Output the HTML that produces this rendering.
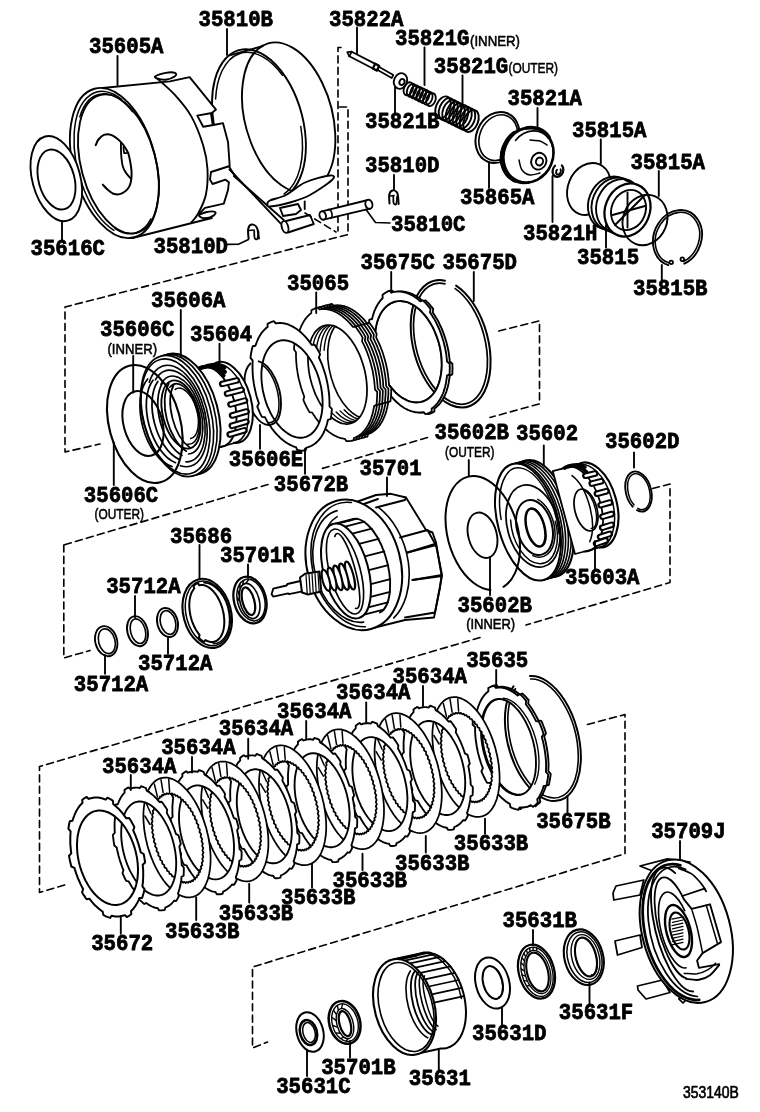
<!DOCTYPE html>
<html><head><meta charset="utf-8"><title>353140B</title>
<style>html,body{margin:0;padding:0;background:#fff}svg{display:block}
svg{will-change:transform}
text{font-family:"Liberation Mono",monospace;font-weight:bold;fill:#000;stroke:#000;stroke-width:.8px}
text.s{font-family:"Liberation Sans",sans-serif;font-weight:normal;stroke-width:.55px}
</style></head><body>
<svg width="760" height="1112" viewBox="0 0 760 1112" fill="none" stroke="#000" stroke-linecap="round" stroke-linejoin="round">
<rect width="760" height="1112" fill="#fff" stroke="none"/>
<path d="M261.5 46.4A44 77 -15 0 1 326 178" fill="none" stroke-width="1.88"/>
<line x1="228.8" y1="55.6" x2="261.5" y2="46.4" stroke-width="1.88"/>
<path d="M235.6 176.5A44 77 -15 1 1 271.2 199.7" fill="none" stroke-width="1.88"/>
<path d="M215.6 99A42 75.5 -15 0 1 282.5 75.3" fill="none" stroke-width="1.5"/>
<path d="M300.8 126.5A41.5 75 -15 0 1 284.1 194" fill="none" stroke-width="1.5"/>
<path d="M316.8 188.1A44 77 -15 1 1 262.8 45.6" fill="none" stroke-width="1.88"/>
<path d="M229.5 169.5L281 223.8" fill="none" stroke-width="1.88"/>
<path d="M233.8 176L283.8 220" fill="none" stroke-width="1.88"/>
<path d="M267.5 204C267.5 203 266.9 202 270 200.5C273.1 199 280.2 198 286 195C291.8 192 297.7 185.8 305 182.5C312.3 179.2 325.5 175.9 330 175.5C334.5 175.1 335.3 176.8 332 180C328.7 183.2 317 191.2 310 195C303 198.8 296.7 200.6 290 202.5C283.3 204.4 273.8 206.2 270 206.5C266.2 206.8 267.5 205 267.5 204Z" fill="#fff" stroke-width="1.88"/>
<path d="M280 208L298 204L301 210L296 214L283 216L280 208" fill="#fff" stroke-width="1.88"/>
<line x1="304.7" y1="201.5" x2="304.7" y2="209" stroke-width="1.88"/>
<path d="M286 221L310 215L313.8 224L288 232.5" fill="#fff" stroke-width="1.88"/>
<ellipse cx="285" cy="227" rx="3.2" ry="6" transform="rotate(-15 285 227)" fill="#fff" stroke-width="1.88"/>
<path d="M102.5 88L170 81.4L189.6 77.1L216 109.6L211.8 113L197.3 115.6L203.2 126.7L213.5 125L223 123.2L228 142L229.7 166L211 172L210 179.7L212.6 184L225.5 179.7L228.9 182.2L228 190L223.8 203.6L205 207.9L199 213.8L211.8 218L132.5 238" fill="#fff" stroke-width="1.88"/>
<path d="M155.4 77C158.5 79.9 168.2 87.6 174.2 94.2C180.2 100.8 186.5 107.9 191.3 116.4C196.1 125 200.5 136.7 203.2 145.5C205.9 154.3 207.1 161.2 207.5 169.4C207.9 177.7 207.4 187.6 205.8 195C204.2 202.4 200.4 209.2 198 213.8C195.6 218.4 192.4 221 191.3 222.4" fill="none" stroke-width="1.88"/>
<path d="M155.4 76.2C156.8 75.3 162.3 73.4 165.6 72.8C168.9 72.2 173.4 72.2 175 72.8C176.6 73.4 176.6 75 175 76.2C173.4 77.4 168.6 79.3 165.6 79.7C162.6 80.1 158.7 79 157 78.4C155.3 77.8 154 77.1 155.4 76.2Z" fill="#fff" stroke-width="1.88"/>
<path d="M199 215.6C199.3 214.5 204 212.6 206.7 212C209.4 211.4 214.1 211.4 215.2 212C216.3 212.6 215.2 214.5 213.5 215.6C211.8 216.7 207.4 218.3 205 218.3C202.6 218.3 198.7 216.7 199 215.6Z" fill="#fff" stroke-width="1.88"/>
<path d="M211 113.8L212.6 124" fill="none" stroke-width="1.88"/>
<ellipse cx="114.4" cy="163" rx="41.1" ry="76.9" transform="rotate(-15 114.4 163)" fill="#fff" stroke-width="1.88"/>
<ellipse cx="118.5" cy="164" rx="37.3" ry="71.3" transform="rotate(-15 118.5 164)" fill="none" stroke-width="1.88"/>
<path d="M113.9 230.3A38.6 73.9 -15 1 1 121.7 99.3" fill="none" stroke-width="1.5"/>
<path d="M79.8 116.9A37.1 71.4 -15 0 1 132.6 111.8" fill="none" stroke-width="1.5"/>
<path d="M150.9 218.9A37.1 71.4 -15 0 1 115.1 228.5" fill="none" stroke-width="1.5"/>
<path d="M95.7 145.1C96.2 144.2 97.1 141.2 98.5 139.5C99.9 137.8 101.8 135.7 103.9 134.9C106 134.1 108.2 133.8 111 134.9C113.8 136 118 139.2 120.5 141.6C123 143.9 124.5 146.5 126 149C127.5 151.5 128.3 152.4 129.2 156.6C130.1 160.8 131.6 168.9 131.6 173.9C131.6 178.9 130.9 183.3 129.2 186.6C127.5 189.9 123.9 192.5 121.3 193.7C118.7 194.9 115.7 194.4 113.4 193.7C111.1 193 109.3 191 107.5 189.5C105.7 188 103.6 185.4 102.8 184.6" fill="none" stroke-width="2"/>
<path d="M120.9 143.2C121 145.2 120.9 151.1 121.2 155C121.5 158.9 122 163.7 122.9 166.8C123.8 169.9 125.2 171.5 126.5 173.5C127.8 175.5 130.1 177.8 130.8 178.7" fill="none" stroke-width="1.88"/>
<path d="M123.5 147L124 153L126.5 153" fill="none" stroke-width="1.75"/>
<line x1="117.5" y1="56" x2="117.5" y2="85" stroke-width="1.88"/>
<text x="89" y="52.8" font-size="22.8" textLength="74.5" lengthAdjust="spacingAndGlyphs">35605A</text>
<ellipse cx="56.3" cy="178.6" rx="24" ry="43.6" transform="rotate(-15 56.3 178.6)" fill="#fff" stroke-width="1.88"/>
<ellipse cx="56.5" cy="179.5" rx="17.9" ry="30.7" transform="rotate(-15 56.5 179.5)" fill="none" stroke-width="1.88"/>
<line x1="62" y1="221" x2="62" y2="240" stroke-width="1.88"/>
<text x="30.5" y="255.4" font-size="22.8" textLength="74.5" lengthAdjust="spacingAndGlyphs">35616C</text>
<text x="198.5" y="26.4" font-size="22.8" textLength="74.5" lengthAdjust="spacingAndGlyphs">35810B</text>
<line x1="227" y1="29" x2="227" y2="55" stroke-width="1.88"/>
<path d="M248.6 238.5C248.5 236.9 247.7 231.3 248.2 229C248.7 226.7 250.1 224.8 251.5 224.6C252.9 224.3 255.6 225.2 256.8 227.5C258.1 229.8 258.6 236.7 259 238.5" fill="none" stroke-width="2"/>
<path d="M254.2 231C254.3 232.2 254.1 236.7 254.6 238C255.1 239.3 256.8 239.9 257.4 238.8C258 237.7 258.3 232.7 258.5 231.5" fill="none" stroke-width="1.75"/>
<path d="M249 230.5L254 230" fill="none" stroke-width="1.62"/>
<path d="M227.5 244.4L238.4 244.2L248.5 239.5" fill="none" stroke-width="1.62"/>
<text x="153.5" y="252.9" font-size="22.8" textLength="74.5" lengthAdjust="spacingAndGlyphs">35810D</text>
<path d="M341 47.5L338 47.5L338 231" fill="none" stroke-width="1.62" stroke-dasharray="7 4.4"/>
<path d="M339.5 107L348 107L348 234.5L65 307L65 452L100 444" fill="none" stroke-width="1.62" stroke-dasharray="7 4.4"/>
<path d="M305 213L336 232" fill="none" stroke-width="1.62" stroke-dasharray="7 4.4"/>
<path d="M322 211.3L368 200L370 208.6L323.6 219.6" fill="#fff" stroke-width="1.88"/>
<ellipse cx="368.9" cy="204.3" rx="3.5" ry="4.6" transform="rotate(-15 368.9 204.3)" fill="#fff" stroke-width="1.88"/>
<ellipse cx="322.7" cy="215.5" rx="3.2" ry="4.3" transform="rotate(-15 322.7 215.5)" fill="#fff" stroke-width="1.88"/>
<path d="M328.4 209.6A2.4 4.3 -15 0 1 330.6 218" fill="none" stroke-width="1.62"/>
<path d="M366 209.5L375.5 222.5L390 223" fill="none" stroke-width="1.62"/>
<text x="391" y="231.4" font-size="22.8" textLength="74.5" lengthAdjust="spacingAndGlyphs">35810C</text>
<text x="365" y="172.4" font-size="22.8" textLength="74.5" lengthAdjust="spacingAndGlyphs">35810D</text>
<line x1="394" y1="175" x2="394" y2="190" stroke-width="1.88"/>
<path d="M389.5 203.5C389.5 202 388.8 196.7 389.3 194.5C389.8 192.3 391.2 190.8 392.5 190.5C393.8 190.2 396.3 190.8 397.3 193C398.3 195.2 398.4 202.2 398.6 204" fill="none" stroke-width="2"/>
<path d="M393.3 196C393.4 197.2 393.1 201.7 393.6 203C394.1 204.3 395.6 205.1 396.2 204C396.8 202.9 397 197.8 397.2 196.5" fill="none" stroke-width="1.75"/>
<path d="M389.8 196L394 195.5" fill="none" stroke-width="1.62"/>
<text x="329" y="26.4" font-size="22.8" textLength="74.5" lengthAdjust="spacingAndGlyphs">35822A</text>
<line x1="357" y1="27.5" x2="357" y2="54" stroke-width="1.88"/>
<path d="M377.2 69.7L391.7 78L393.3 75L378.8 66.7Z" fill="#fff" stroke-width="1.62"/>
<path d="M349.3 56.3L376.8 70.5L379.2 65.9L351.7 51.7Z" fill="#fff" stroke-width="1.75"/>
<path d="M351.7 51.7L347.3 52.2L349.3 56.3" fill="none" stroke-width="1.75"/>
<path d="M372.8 68.4L376.8 70.5L379.2 65.9L375.2 63.8Z" fill="#fff" stroke-width="2.25"/>
<ellipse cx="400.5" cy="81" rx="6.5" ry="8" transform="rotate(22 400.5 81)" fill="#fff" stroke-width="1.88"/>
<ellipse cx="402" cy="82" rx="2.5" ry="3" transform="rotate(22 402 82)" fill="none" stroke-width="1.88"/>
<line x1="395" y1="87.5" x2="395" y2="112.5" stroke-width="1.88"/>
<text x="365" y="127.9" font-size="22.8" textLength="74.5" lengthAdjust="spacingAndGlyphs">35821B</text>
<ellipse cx="408.4" cy="88.8" rx="4.4" ry="6.8" transform="rotate(22 408.4 88.8)" fill="none" stroke-width="1.81"/>
<ellipse cx="411.6" cy="90.3" rx="4.4" ry="6.8" transform="rotate(22 411.6 90.3)" fill="none" stroke-width="1.81"/>
<ellipse cx="414.9" cy="91.9" rx="4.4" ry="6.8" transform="rotate(22 414.9 91.9)" fill="none" stroke-width="1.81"/>
<ellipse cx="418.1" cy="93.4" rx="4.4" ry="6.8" transform="rotate(22 418.1 93.4)" fill="none" stroke-width="1.81"/>
<ellipse cx="421.3" cy="95" rx="4.4" ry="6.8" transform="rotate(22 421.3 95)" fill="none" stroke-width="1.81"/>
<ellipse cx="424.5" cy="96.5" rx="4.4" ry="6.8" transform="rotate(22 424.5 96.5)" fill="none" stroke-width="1.81"/>
<ellipse cx="427.8" cy="98.1" rx="4.4" ry="6.8" transform="rotate(22 427.8 98.1)" fill="none" stroke-width="1.81"/>
<ellipse cx="431" cy="99.6" rx="4.4" ry="6.8" transform="rotate(22 431 99.6)" fill="none" stroke-width="1.81"/>
<ellipse cx="443" cy="107.4" rx="7" ry="11.5" transform="rotate(22 443 107.4)" fill="none" stroke-width="1.94"/>
<ellipse cx="446.5" cy="109.1" rx="7" ry="11.5" transform="rotate(22 446.5 109.1)" fill="none" stroke-width="1.94"/>
<ellipse cx="450" cy="110.8" rx="7" ry="11.5" transform="rotate(22 450 110.8)" fill="none" stroke-width="1.94"/>
<ellipse cx="453.5" cy="112.5" rx="7" ry="11.5" transform="rotate(22 453.5 112.5)" fill="none" stroke-width="1.94"/>
<ellipse cx="457" cy="114.2" rx="7" ry="11.5" transform="rotate(22 457 114.2)" fill="none" stroke-width="1.94"/>
<ellipse cx="460.5" cy="115.9" rx="7" ry="11.5" transform="rotate(22 460.5 115.9)" fill="none" stroke-width="1.94"/>
<ellipse cx="464" cy="117.6" rx="7" ry="11.5" transform="rotate(22 464 117.6)" fill="none" stroke-width="1.94"/>
<ellipse cx="467.5" cy="119.3" rx="7" ry="11.5" transform="rotate(22 467.5 119.3)" fill="none" stroke-width="1.94"/>
<ellipse cx="471" cy="121" rx="7" ry="11.5" transform="rotate(22 471 121)" fill="none" stroke-width="1.94"/>
<text x="395" y="45.4" font-size="22.8" textLength="74.5" lengthAdjust="spacingAndGlyphs">35821G</text>
<text class="s" x="470" y="45.5" font-size="15.2" textLength="50" lengthAdjust="spacingAndGlyphs">(INNER)</text>
<text x="433.8" y="72.9" font-size="22.8" textLength="74.5" lengthAdjust="spacingAndGlyphs">35821G</text>
<text class="s" x="508.5" y="73" font-size="15.2" textLength="49.5" lengthAdjust="spacingAndGlyphs">(OUTER)</text>
<line x1="424.5" y1="47.5" x2="424.5" y2="85" stroke-width="1.88"/>
<line x1="462.5" y1="75.5" x2="462.5" y2="106" stroke-width="1.88"/>
<ellipse cx="497.5" cy="137.5" rx="21.3" ry="26.1" transform="rotate(22 497.5 137.5)" fill="none" stroke-width="2"/>
<ellipse cx="498.3" cy="137.7" rx="18.7" ry="23.5" transform="rotate(22 498.3 137.7)" fill="none" stroke-width="1.62"/>
<line x1="489" y1="162.5" x2="489" y2="188" stroke-width="1.88"/>
<text x="460" y="204.2" font-size="22.8" textLength="74.5" lengthAdjust="spacingAndGlyphs">35865A</text>
<ellipse cx="525.8" cy="155.6" rx="24.5" ry="28" transform="rotate(22 525.8 155.6)" fill="#fff" stroke-width="2.25"/>
<path d="M514.6 180.3A24.5 28 22 0 1 514.4 132.9" fill="none" stroke-width="4.25"/>
<ellipse cx="528.5" cy="155" rx="24.5" ry="28" transform="rotate(22 528.5 155)" fill="#fff" stroke-width="2.5"/>
<path d="M526.2 128A24.5 28 22 0 1 548.9 137.1" fill="none" stroke-width="3.75"/>
<path d="M515.5 140.4A21.5 25.5 22 1 1 540.1 177.3" fill="none" stroke-width="1.62"/>
<ellipse cx="538.8" cy="161.2" rx="7.5" ry="8.5" transform="rotate(22 538.8 161.2)" fill="none" stroke-width="1.88"/>
<ellipse cx="539.5" cy="161.5" rx="3.5" ry="4" transform="rotate(22 539.5 161.5)" fill="none" stroke-width="1.88"/>
<path d="M519 160C519.5 161.7 520.2 167.5 522 170C523.8 172.5 527 174.5 530 175C533 175.5 538.3 173.3 540 173" fill="none" stroke-width="1.5"/>
<path d="M530 140C531.7 140.2 537.2 140.2 540 141C542.8 141.8 545.8 144.3 547 145" fill="none" stroke-width="1.5"/>
<text x="507.5" y="104.9" font-size="22.8" textLength="74.5" lengthAdjust="spacingAndGlyphs">35821A</text>
<line x1="537.5" y1="108" x2="537.5" y2="129" stroke-width="1.88"/>
<path d="M561.9 165.5A5.2 6.5 22 1 1 555 165.8" fill="none" stroke-width="2.25"/>
<path d="M560.6 169.3A2.2 3.2 22 1 1 557 169.7" fill="none" stroke-width="1.88"/>
<line x1="552.5" y1="176" x2="552.5" y2="222" stroke-width="1.88"/>
<text x="523" y="240.4" font-size="22.8" textLength="74.5" lengthAdjust="spacingAndGlyphs">35821H</text>
<ellipse cx="589" cy="189" rx="21.1" ry="26.7" transform="rotate(22 589 189)" fill="none" stroke-width="1.88"/>
<ellipse cx="611" cy="203" rx="22.3" ry="27.1" transform="rotate(22 611 203)" fill="#fff" stroke-width="1.88"/>
<path d="M602.6 228.3A22.3 27.1 22 1 1 631.1 183.2" fill="#fff" stroke-width="1.88"/>
<path d="M607.1 229.8A22.3 27.1 22 1 1 635.6 184.7" fill="none" stroke-width="1.88"/>
<path d="M625.2 180.1L641.7 187.1" fill="none" stroke-width="1.88"/>
<path d="M597.4 226.3L613.9 233.3" fill="none" stroke-width="1.88"/>
<ellipse cx="627.5" cy="210" rx="22.3" ry="27.1" transform="rotate(22 627.5 210)" fill="#fff" stroke-width="2.25"/>
<ellipse cx="628.5" cy="210" rx="17" ry="20.5" transform="rotate(22 628.5 210)" fill="none" stroke-width="1.88"/>
<line x1="612.5" y1="215" x2="645" y2="206" stroke-width="1.88"/>
<line x1="627.5" y1="192.5" x2="627.5" y2="227.5" stroke-width="1.88"/>
<line x1="615" y1="225" x2="645" y2="195" stroke-width="1.88"/>
<line x1="606" y1="225" x2="606" y2="247.5" stroke-width="1.88"/>
<text x="577" y="264.1" font-size="22.8" textLength="62.1" lengthAdjust="spacingAndGlyphs">35815</text>
<ellipse cx="645" cy="220" rx="21.9" ry="25.7" transform="rotate(22 645 220)" fill="none" stroke-width="1.88"/>
<text x="572" y="137.4" font-size="22.8" textLength="74.5" lengthAdjust="spacingAndGlyphs">35815A</text>
<line x1="600.8" y1="139.5" x2="600.8" y2="163.8" stroke-width="1.88"/>
<text x="630.5" y="169.2" font-size="22.8" textLength="74.5" lengthAdjust="spacingAndGlyphs">35815A</text>
<line x1="658.8" y1="171" x2="658.8" y2="196" stroke-width="1.88"/>
<path d="M668.3 265.1A23.8 28.6 22 1 1 684.3 263.7" fill="none" stroke-width="1.88"/>
<path d="M669 262.9A21.5 26.3 22 1 1 683.5 261.5" fill="none" stroke-width="1.62"/>
<ellipse cx="671.2" cy="262.3" rx="1.8" ry="1.8" transform="rotate(0 671.2 262.3)" fill="none" stroke-width="1.75"/>
<ellipse cx="682.3" cy="259.2" rx="1.8" ry="1.8" transform="rotate(0 682.3 259.2)" fill="none" stroke-width="1.75"/>
<line x1="661.8" y1="265" x2="661.8" y2="280" stroke-width="1.88"/>
<text x="633" y="295.4" font-size="22.8" textLength="74.5" lengthAdjust="spacingAndGlyphs">35815B</text>
<path d="M498.8 331L539.5 320.8L539.5 403.8L490 417.5" fill="none" stroke-width="1.62" stroke-dasharray="7 4.4"/>
<path d="M427.5 437.5L322.5 468.4" fill="none" stroke-width="1.62" stroke-dasharray="7 4.4"/>
<path d="M268 484.5L63.8 545" fill="none" stroke-width="1.62" stroke-dasharray="7 4.4"/>
<path d="M456.1 285.6A37.5 65.2 -15 1 1 445 280.7" fill="none" stroke-width="2"/>
<path d="M455.2 288.6A34.5 62 -15 1 1 444.9 283.8" fill="none" stroke-width="1.75"/>
<path d="M446.5 342.6L447.0 344.7L447.5 346.8L448.0 348.9L448.4 351.0L448.8 353.1L449.1 355.3L449.3 357.4L449.6 359.5L449.7 361.5L452.4 363.8L452.4 366.0L452.5 368.1L452.4 370.2L452.4 372.3L452.2 374.4L449.7 375.7L449.5 377.6L449.2 379.5L448.9 381.4L448.6 383.2L448.2 385.0L447.8 386.8L447.3 388.5L446.8 390.1L446.3 391.8L445.7 393.3L445.0 394.8L444.4 396.3L443.6 397.7L442.9 399.1L442.1 400.4L441.2 401.6L440.4 402.8L439.5 403.9L438.5 405.0L437.6 405.9L436.5 406.9L435.5 407.7L434.4 408.5L434.4 411.5L433.2 412.2L432.0 412.8L430.7 413.3L429.5 413.8L428.2 414.2L426.3 412.1L425.0 412.3L423.8 412.4L422.5 412.5L421.2 412.5L419.9 412.4L418.6 412.3L417.2 412.0L415.9 411.7L414.6 411.4L413.2 410.9L411.9 410.4L410.5 409.8L409.2 409.2L407.9 408.5L406.5 407.7L405.2 406.8L403.9 405.9L402.6 404.9L401.3 403.8L400.0 402.7L398.7 401.5L397.4 400.3L396.2 399.0L395.0 397.6L393.8 396.2L391.0 396.7L389.8 395.1L388.6 393.5L387.4 391.8L386.3 390.0L385.2 388.3L384.1 386.5L385.0 383.1L384.1 381.3L383.2 379.4L382.3 377.5L381.4 375.6L380.6 373.6L379.8 371.6L379.1 369.6L378.4 367.6L377.7 365.5L377.1 363.5L376.5 361.4L376.0 359.3L375.5 357.2L375.0 355.1L374.6 353.0L374.2 350.9L373.9 348.7L373.7 346.6L373.4 344.5L373.3 342.5L373.1 340.4L373.0 338.3L373.0 336.3L373.0 334.2L373.1 332.2L370.8 329.6L370.9 327.6L371.2 325.5L371.4 323.6L371.7 321.6L372.1 319.7L374.8 319.0L375.2 317.2L375.7 315.5L376.2 313.9L376.7 312.2L377.3 310.7L378.0 309.2L378.6 307.7L379.4 306.3L380.1 304.9L380.9 303.6L381.8 302.4L382.6 301.2L383.5 300.1L384.5 299.0L385.4 298.1L385.2 295.0L386.3 294.1L387.4 293.3L388.6 292.5L389.8 291.8L391.0 291.2L392.3 290.7L394.3 292.6L395.5 292.2L396.7 291.9L398.0 291.7L399.2 291.6L400.5 291.5L401.8 291.5L403.1 291.6L404.4 291.7L405.8 292.0L407.1 292.3L408.4 292.6L409.8 293.1L411.1 293.6L412.5 294.2L413.8 294.8L415.1 295.5L416.5 296.3L417.8 297.2L419.1 298.1L420.4 299.1L421.7 300.2L423.0 301.3L425.5 300.3L426.8 301.6L428.2 302.9L429.5 304.3L430.7 305.8L432.0 307.3L433.2 308.9L432.7 312.4L433.8 314.0L434.9 315.7L435.9 317.4L437.0 319.1L438.0 320.9L438.9 322.7L439.8 324.6L440.7 326.5L441.6 328.4L442.4 330.4L443.2 332.4L443.9 334.4L444.6 336.4L445.3 338.5L445.9 340.5ZM439.0 343.5L439.9 347.0L440.6 350.6L441.1 354.1L441.5 357.6L441.7 361.1L441.8 364.6L441.7 368.0L441.4 371.3L441.0 374.5L440.4 377.6L439.7 380.6L438.8 383.5L437.8 386.1L436.6 388.7L435.3 391.0L433.8 393.2L432.2 395.1L430.5 396.8L428.7 398.4L426.8 399.6L424.9 400.7L422.8 401.5L420.6 402.1L418.4 402.4L416.2 402.5L413.9 402.3L411.6 401.9L409.2 401.3L406.9 400.4L404.6 399.2L402.3 397.9L400.0 396.3L397.7 394.5L395.5 392.5L393.4 390.2L391.4 387.8L389.4 385.3L387.5 382.5L385.7 379.6L384.0 376.6L382.5 373.5L381.1 370.2L379.8 366.9L378.6 363.4L377.6 360.0L376.7 356.5L376.0 352.9L375.5 349.4L375.1 345.9L374.9 342.4L374.8 338.9L374.9 335.5L375.2 332.2L375.6 329.0L376.2 325.9L376.9 322.9L377.8 320.0L378.8 317.4L380.0 314.8L381.3 312.5L382.8 310.3L384.4 308.4L386.1 306.7L387.9 305.1L389.8 303.9L391.7 302.8L393.8 302.0L396.0 301.4L398.2 301.1L400.4 301.0L402.7 301.2L405.0 301.6L407.4 302.2L409.7 303.1L412.0 304.3L414.3 305.6L416.6 307.2L418.9 309.0L421.1 311.0L423.2 313.3L425.2 315.7L427.2 318.2L429.1 321.0L430.9 323.9L432.6 326.9L434.1 330.0L435.5 333.3L436.8 336.6L438.0 340.1Z" fill="#fff" fill-rule="evenodd" stroke-width="1.88"/>
<path d="M443.8 342.6L444.3 344.7L444.8 346.8L445.3 348.9L445.7 351.0L446.1 353.1L446.4 355.3L446.6 357.4L446.9 359.5L447.0 361.5L449.7 363.8L449.7 366.0L449.8 368.1L449.7 370.2L449.7 372.3L449.5 374.4L447.0 375.7L446.8 377.6L446.5 379.5L446.2 381.4L445.9 383.2L445.5 385.0L445.1 386.8L444.6 388.5L444.1 390.1L443.6 391.8L443.0 393.3L442.3 394.8L441.7 396.3L440.9 397.7L440.2 399.1L439.4 400.4L438.5 401.6L437.7 402.8L436.8 403.9L435.8 405.0L434.9 405.9L433.8 406.9L432.8 407.7L431.7 408.5L431.7 411.5L430.5 412.2L429.3 412.8L428.0 413.3L426.8 413.8L425.5 414.2L423.6 412.1L422.3 412.3L421.1 412.4L419.8 412.5L418.5 412.5L417.2 412.4L415.9 412.3L414.5 412.0L413.2 411.7L411.9 411.4L410.5 410.9L409.2 410.4L407.8 409.8L406.5 409.2L405.2 408.5L403.8 407.7L402.5 406.8L401.2 405.9L399.9 404.9L398.6 403.8L397.3 402.7L396.0 401.5L394.7 400.3L393.5 399.0L392.3 397.6L391.1 396.2L388.3 396.7L387.1 395.1L385.9 393.5L384.7 391.8L383.6 390.0L382.5 388.3L381.4 386.5L382.3 383.1L381.4 381.3L380.5 379.4L379.6 377.5L378.7 375.6L377.9 373.6L377.1 371.6L376.4 369.6L375.7 367.6L375.0 365.5L374.4 363.5L373.8 361.4L373.3 359.3L372.8 357.2L372.3 355.1L371.9 353.0L371.5 350.9L371.2 348.7L371.0 346.6L370.7 344.5L370.6 342.5L370.4 340.4L370.3 338.3L370.3 336.3L370.3 334.2L370.4 332.2L368.1 329.6L368.2 327.6L368.5 325.5L368.7 323.6L369.0 321.6L369.4 319.7L372.1 319.0L372.5 317.2L373.0 315.5L373.5 313.9L374.0 312.2L374.6 310.7L375.3 309.2L375.9 307.7L376.7 306.3L377.4 304.9L378.2 303.6L379.1 302.4L379.9 301.2L380.8 300.1L381.8 299.0L382.7 298.1L382.5 295.0L383.6 294.1L384.7 293.3L385.9 292.5L387.1 291.8L388.3 291.2L389.6 290.7L391.6 292.6L392.8 292.2L394.0 291.9L395.3 291.7L396.5 291.6L397.8 291.5L399.1 291.5L400.4 291.6L401.7 291.7L403.1 292.0L404.4 292.3L405.7 292.6L407.1 293.1L408.4 293.6L409.8 294.2L411.1 294.8L412.4 295.5L413.8 296.3L415.1 297.2L416.4 298.1L417.7 299.1L419.0 300.2L420.3 301.3L422.8 300.3L424.1 301.6L425.5 302.9L426.8 304.3L428.0 305.8L429.3 307.3L430.5 308.9L430.0 312.4L431.1 314.0L432.2 315.7L433.2 317.4L434.3 319.1L435.3 320.9L436.2 322.7L437.1 324.6L438.0 326.5L438.9 328.4L439.7 330.4L440.5 332.4L441.2 334.4L441.9 336.4L442.6 338.5L443.2 340.5ZM439.0 343.5L439.9 347.0L440.6 350.6L441.1 354.1L441.5 357.6L441.7 361.1L441.8 364.6L441.7 368.0L441.4 371.3L441.0 374.5L440.4 377.6L439.7 380.6L438.8 383.5L437.8 386.1L436.6 388.7L435.3 391.0L433.8 393.2L432.2 395.1L430.5 396.8L428.7 398.4L426.8 399.6L424.9 400.7L422.8 401.5L420.6 402.1L418.4 402.4L416.2 402.5L413.9 402.3L411.6 401.9L409.2 401.3L406.9 400.4L404.6 399.2L402.3 397.9L400.0 396.3L397.7 394.5L395.5 392.5L393.4 390.2L391.4 387.8L389.4 385.3L387.5 382.5L385.7 379.6L384.0 376.6L382.5 373.5L381.1 370.2L379.8 366.9L378.6 363.4L377.6 360.0L376.7 356.5L376.0 352.9L375.5 349.4L375.1 345.9L374.9 342.4L374.8 338.9L374.9 335.5L375.2 332.2L375.6 329.0L376.2 325.9L376.9 322.9L377.8 320.0L378.8 317.4L380.0 314.8L381.3 312.5L382.8 310.3L384.4 308.4L386.1 306.7L387.9 305.1L389.8 303.9L391.7 302.8L393.8 302.0L396.0 301.4L398.2 301.1L400.4 301.0L402.7 301.2L405.0 301.6L407.4 302.2L409.7 303.1L412.0 304.3L414.3 305.6L416.6 307.2L418.9 309.0L421.1 311.0L423.2 313.3L425.2 315.7L427.2 318.2L429.1 321.0L430.9 323.9L432.6 326.9L434.1 330.0L435.5 333.3L436.8 336.6L438.0 340.1Z" fill="#fff" fill-rule="evenodd" stroke-width="1.88"/>
<text x="360.5" y="269.1" font-size="22.8" textLength="74.5" lengthAdjust="spacingAndGlyphs">35675C</text>
<text x="442.5" y="269.1" font-size="22.8" textLength="74.5" lengthAdjust="spacingAndGlyphs">35675D</text>
<line x1="391.2" y1="272" x2="391.2" y2="292.5" stroke-width="1.88"/>
<line x1="473.8" y1="272" x2="473.8" y2="301" stroke-width="1.88"/>
<path d="M385.1 360.7L385.7 363.0L386.2 365.2L386.7 367.5L387.2 369.7L387.6 372.0L387.9 374.3L388.2 376.5L388.5 378.8L388.7 381.0L388.9 383.3L389.0 385.5L391.2 388.0L391.2 390.3L391.2 392.5L391.1 394.7L390.9 396.9L390.7 399.0L390.5 401.1L388.2 402.3L387.9 404.3L387.5 406.2L387.1 408.0L386.6 409.9L386.2 411.6L385.6 413.4L385.0 415.0L384.4 416.7L383.7 418.2L383.0 419.7L382.3 421.2L381.5 422.5L380.6 423.8L379.8 425.1L378.9 426.3L377.9 427.4L376.9 428.4L375.9 429.4L374.9 430.3L373.8 431.1L372.7 431.9L371.6 432.6L370.4 433.2L369.2 433.7L368.0 434.2L367.4 436.7L366.0 437.0L364.7 437.2L363.3 437.3L361.9 437.4L360.6 437.4L359.0 435.1L357.7 434.9L356.3 434.7L355.0 434.3L353.6 433.9L352.2 433.4L350.8 432.8L349.5 432.2L348.1 431.5L346.7 430.7L345.3 429.8L344.0 428.9L342.6 427.8L341.3 426.8L339.9 425.6L338.6 424.4L337.3 423.1L336.0 421.7L334.7 420.3L333.4 418.9L332.2 417.3L330.9 415.7L329.7 414.1L328.6 412.4L327.4 410.6L326.3 408.8L323.5 408.4L322.4 406.5L321.3 404.5L320.3 402.4L319.2 400.4L318.3 398.2L317.3 396.1L318.4 392.9L317.6 390.8L316.8 388.6L316.0 386.4L315.3 384.2L314.6 382.0L314.0 379.8L313.4 377.5L312.9 375.2L312.4 373.0L312.0 370.7L311.6 368.4L311.2 366.2L310.9 363.9L310.6 361.7L310.4 359.4L310.3 357.2L310.2 355.0L310.1 352.8L310.1 350.6L310.1 348.5L308.0 345.8L308.2 343.6L308.4 341.5L308.6 339.4L308.9 337.3L309.3 335.3L311.6 334.3L312.0 332.4L312.5 330.6L313.0 328.8L313.5 327.1L314.1 325.4L314.7 323.8L315.4 322.3L316.1 320.7L316.9 319.3L317.7 317.9L318.5 316.6L319.4 315.4L320.3 314.2L321.2 313.1L322.2 312.0L323.2 311.0L324.2 310.1L325.3 309.3L325.5 306.6L326.7 305.9L327.9 305.2L329.2 304.7L330.5 304.2L331.8 303.8L333.6 305.6L334.9 305.4L336.1 305.3L337.5 305.2L338.8 305.3L340.1 305.4L341.4 305.5L342.8 305.8L344.2 306.1L345.5 306.6L346.9 307.0L348.3 307.6L349.7 308.3L351.0 309.0L352.4 309.8L353.8 310.7L355.2 311.6L356.5 312.6L357.9 313.7L359.2 314.9L360.5 316.1L361.9 317.4L363.2 318.7L364.5 320.1L365.7 321.6L367.0 323.1L369.6 323.0L370.8 324.7L372.1 326.5L373.3 328.3L374.5 330.1L375.6 332.0L376.7 334.0L376.1 337.3L377.1 339.3L378.0 341.3L379.0 343.4L379.9 345.4L380.8 347.5L381.6 349.7L382.4 351.8L383.1 354.0L383.8 356.2L384.5 358.5Z" fill="#fff" fill-rule="evenodd" stroke-width="1.75"/>
<path d="M382.3 361.5L382.9 363.7L383.4 366.0L383.9 368.2L384.3 370.5L384.7 372.8L385.1 375.0L385.4 377.3L385.7 379.6L385.9 381.8L386.0 384.0L386.2 386.2L388.4 388.8L388.4 391.0L388.4 393.3L388.3 395.5L388.1 397.6L387.9 399.8L387.7 401.9L385.4 403.1L385.1 405.0L384.7 406.9L384.3 408.8L383.8 410.6L383.3 412.4L382.8 414.1L382.2 415.8L381.6 417.4L380.9 419.0L380.2 420.5L379.4 421.9L378.7 423.3L377.8 424.6L376.9 425.8L376.0 427.0L375.1 428.1L374.1 429.2L373.1 430.2L372.1 431.1L371.0 431.9L369.9 432.7L368.8 433.3L367.6 433.9L366.4 434.5L365.2 434.9L364.6 437.4L363.2 437.7L361.9 437.9L360.5 438.1L359.1 438.2L357.7 438.2L356.2 435.9L354.9 435.7L353.5 435.4L352.2 435.1L350.8 434.7L349.4 434.2L348.0 433.6L346.7 433.0L345.3 432.2L343.9 431.4L342.5 430.6L341.2 429.6L339.8 428.6L338.4 427.5L337.1 426.4L335.8 425.1L334.5 423.9L333.2 422.5L331.9 421.1L330.6 419.6L329.3 418.1L328.1 416.5L326.9 414.8L325.7 413.1L324.6 411.4L323.5 409.6L320.7 409.2L319.6 407.2L318.5 405.2L317.4 403.2L316.4 401.1L315.4 399.0L314.5 396.8L315.6 393.7L314.7 391.5L314.0 389.4L313.2 387.2L312.5 385.0L311.8 382.7L311.2 380.5L310.6 378.3L310.1 376.0L309.6 373.7L309.2 371.5L308.8 369.2L308.4 366.9L308.1 364.7L307.8 362.4L307.6 360.2L307.5 357.9L307.3 355.7L307.3 353.5L307.3 351.4L307.3 349.2L305.2 346.5L305.4 344.3L305.6 342.2L305.8 340.1L306.1 338.0L306.5 336.0L308.8 335.0L309.2 333.2L309.7 331.3L310.2 329.6L310.7 327.9L311.3 326.2L311.9 324.6L312.6 323.0L313.3 321.5L314.1 320.1L314.9 318.7L315.7 317.4L316.6 316.1L317.5 314.9L318.4 313.8L319.4 312.8L320.4 311.8L321.4 310.9L322.5 310.1L322.7 307.3L323.9 306.6L325.1 306.0L326.4 305.4L327.7 305.0L329.0 304.6L330.8 306.4L332.0 306.2L333.3 306.0L334.6 306.0L336.0 306.0L337.3 306.1L338.6 306.3L340.0 306.6L341.4 306.9L342.7 307.3L344.1 307.8L345.5 308.4L346.8 309.0L348.2 309.7L349.6 310.5L351.0 311.4L352.3 312.4L353.7 313.4L355.1 314.5L356.4 315.6L357.7 316.8L359.1 318.1L360.4 319.5L361.6 320.9L362.9 322.4L364.2 323.9L366.8 323.8L368.0 325.5L369.3 327.2L370.5 329.0L371.7 330.9L372.8 332.8L373.9 334.7L373.3 338.1L374.3 340.0L375.2 342.1L376.2 344.1L377.1 346.2L377.9 348.3L378.8 350.4L379.6 352.6L380.3 354.8L381.0 357.0L381.7 359.2Z" fill="#fff" fill-rule="evenodd" stroke-width="1.75"/>
<path d="M379.5 362.2L380.1 364.5L380.6 366.7L381.1 369.0L381.5 371.3L381.9 373.5L382.3 375.8L382.6 378.1L382.9 380.3L383.1 382.5L383.2 384.8L383.3 387.0L385.6 389.5L385.6 391.8L385.6 394.0L385.5 396.2L385.3 398.4L385.1 400.5L384.9 402.6L382.6 403.8L382.2 405.8L381.9 407.7L381.5 409.6L381.0 411.4L380.5 413.1L380.0 414.9L379.4 416.5L378.8 418.2L378.1 419.7L377.4 421.2L376.6 422.7L375.8 424.0L375.0 425.4L374.1 426.6L373.2 427.8L372.3 428.9L371.3 429.9L370.3 430.9L369.3 431.8L368.2 432.7L367.1 433.4L365.9 434.1L364.8 434.7L363.6 435.2L362.4 435.7L361.7 438.2L360.4 438.5L359.1 438.7L357.7 438.9L356.3 438.9L354.9 438.9L353.4 436.6L352.1 436.4L350.7 436.2L349.3 435.8L348.0 435.4L346.6 434.9L345.2 434.4L343.8 433.7L342.5 433.0L341.1 432.2L339.7 431.3L338.3 430.4L337.0 429.4L335.6 428.3L334.3 427.1L333.0 425.9L331.6 424.6L330.3 423.3L329.1 421.8L327.8 420.4L326.5 418.8L325.3 417.2L324.1 415.6L322.9 413.9L321.8 412.1L320.6 410.3L317.9 409.9L316.8 408.0L315.7 406.0L314.6 403.9L313.6 401.9L312.6 399.7L311.7 397.6L312.8 394.4L311.9 392.3L311.1 390.1L310.4 387.9L309.7 385.7L309.0 383.5L308.4 381.3L307.8 379.0L307.3 376.8L306.8 374.5L306.3 372.2L305.9 370.0L305.6 367.7L305.3 365.4L305.0 363.2L304.8 360.9L304.6 358.7L304.5 356.5L304.5 354.3L304.4 352.1L304.5 350.0L302.4 347.3L302.6 345.1L302.8 343.0L303.0 340.9L303.3 338.8L303.6 336.8L306.0 335.8L306.4 333.9L306.9 332.1L307.4 330.3L307.9 328.6L308.5 326.9L309.1 325.3L309.8 323.8L310.5 322.3L311.2 320.8L312.0 319.4L312.9 318.1L313.7 316.9L314.6 315.7L315.6 314.6L316.6 313.5L317.6 312.6L318.6 311.7L319.7 310.8L319.9 308.1L321.1 307.4L322.3 306.7L323.6 306.2L324.8 305.7L326.1 305.3L328.0 307.1L329.2 306.9L330.5 306.8L331.8 306.7L333.1 306.8L334.5 306.9L335.8 307.0L337.2 307.3L338.5 307.6L339.9 308.1L341.3 308.6L342.7 309.1L344.0 309.8L345.4 310.5L346.8 311.3L348.2 312.2L349.5 313.1L350.9 314.1L352.2 315.2L353.6 316.4L354.9 317.6L356.2 318.9L357.5 320.2L358.8 321.6L360.1 323.1L361.3 324.6L364.0 324.5L365.2 326.2L366.5 328.0L367.7 329.8L368.8 331.6L370.0 333.5L371.1 335.5L370.4 338.8L371.4 340.8L372.4 342.8L373.4 344.9L374.3 346.9L375.1 349.1L376.0 351.2L376.7 353.4L377.5 355.5L378.2 357.8L378.9 360.0Z" fill="#fff" fill-rule="evenodd" stroke-width="1.75"/>
<path d="M376.7 363.0L377.3 365.2L377.8 367.5L378.3 369.7L378.7 372.0L379.1 374.3L379.5 376.5L379.8 378.8L380.0 381.1L380.3 383.3L380.4 385.5L380.5 387.7L382.8 390.3L382.8 392.5L382.7 394.8L382.6 397.0L382.5 399.1L382.3 401.3L382.1 403.4L379.7 404.6L379.4 406.5L379.1 408.4L378.7 410.3L378.2 412.1L377.7 413.9L377.2 415.6L376.6 417.3L376.0 418.9L375.3 420.5L374.6 422.0L373.8 423.4L373.0 424.8L372.2 426.1L371.3 427.4L370.4 428.5L369.5 429.7L368.5 430.7L367.5 431.7L366.4 432.6L365.4 433.4L364.3 434.2L363.1 434.8L362.0 435.4L360.8 436.0L359.6 436.4L358.9 438.9L357.6 439.2L356.3 439.5L354.9 439.6L353.5 439.7L352.1 439.7L350.6 437.4L349.2 437.2L347.9 436.9L346.5 436.6L345.2 436.2L343.8 435.7L342.4 435.1L341.0 434.5L339.7 433.7L338.3 432.9L336.9 432.1L335.5 431.1L334.2 430.1L332.8 429.0L331.5 427.9L330.1 426.6L328.8 425.4L327.5 424.0L326.2 422.6L325.0 421.1L323.7 419.6L322.5 418.0L321.3 416.3L320.1 414.6L319.0 412.9L317.8 411.1L315.1 410.7L314.0 408.7L312.9 406.7L311.8 404.7L310.8 402.6L309.8 400.5L308.9 398.4L309.9 395.2L309.1 393.0L308.3 390.9L307.6 388.7L306.9 386.5L306.2 384.3L305.6 382.0L305.0 379.8L304.5 377.5L304.0 375.2L303.5 373.0L303.1 370.7L302.8 368.4L302.5 366.2L302.2 363.9L302.0 361.7L301.8 359.5L301.7 357.2L301.6 355.0L301.6 352.9L301.7 350.7L299.6 348.0L299.7 345.9L299.9 343.7L300.2 341.6L300.5 339.6L300.8 337.5L303.2 336.5L303.6 334.7L304.0 332.9L304.5 331.1L305.1 329.4L305.7 327.7L306.3 326.1L307.0 324.5L307.7 323.0L308.4 321.6L309.2 320.2L310.1 318.9L310.9 317.6L311.8 316.4L312.8 315.3L313.8 314.3L314.8 313.3L315.8 312.4L316.9 311.6L317.1 308.8L318.3 308.1L319.5 307.5L320.7 306.9L322.0 306.5L323.3 306.1L325.1 307.9L326.4 307.7L327.7 307.6L329.0 307.5L330.3 307.5L331.7 307.6L333.0 307.8L334.4 308.1L335.7 308.4L337.1 308.8L338.5 309.3L339.8 309.9L341.2 310.5L342.6 311.2L344.0 312.0L345.4 312.9L346.7 313.9L348.1 314.9L349.4 316.0L350.8 317.1L352.1 318.3L353.4 319.6L354.7 321.0L356.0 322.4L357.3 323.9L358.5 325.4L361.1 325.3L362.4 327.0L363.6 328.7L364.8 330.5L366.0 332.4L367.2 334.3L368.3 336.3L367.6 339.6L368.6 341.6L369.6 343.6L370.5 345.6L371.4 347.7L372.3 349.8L373.1 351.9L373.9 354.1L374.7 356.3L375.4 358.5L376.0 360.7Z" fill="#fff" fill-rule="evenodd" stroke-width="1.75"/>
<path d="M373.9 363.7L374.4 366.0L375.0 368.2L375.5 370.5L375.9 372.8L376.3 375.0L376.7 377.3L377.0 379.6L377.2 381.8L377.4 384.1L377.6 386.3L377.7 388.5L380.0 391.0L380.0 393.3L379.9 395.5L379.8 397.7L379.7 399.9L379.5 402.0L379.2 404.1L376.9 405.3L376.6 407.3L376.3 409.2L375.8 411.1L375.4 412.9L374.9 414.7L374.4 416.4L373.8 418.1L373.1 419.7L372.5 421.2L371.8 422.7L371.0 424.2L370.2 425.5L369.4 426.9L368.5 428.1L367.6 429.3L366.7 430.4L365.7 431.5L364.7 432.4L363.6 433.3L362.6 434.2L361.5 434.9L360.3 435.6L359.2 436.2L358.0 436.7L356.8 437.2L356.1 439.7L354.8 440.0L353.4 440.2L352.1 440.4L350.7 440.4L349.3 440.4L347.8 438.1L346.4 437.9L345.1 437.7L343.7 437.3L342.3 436.9L341.0 436.4L339.6 435.9L338.2 435.2L336.8 434.5L335.5 433.7L334.1 432.8L332.7 431.9L331.4 430.9L330.0 429.8L328.7 428.6L327.3 427.4L326.0 426.1L324.7 424.8L323.4 423.3L322.2 421.9L320.9 420.3L319.7 418.7L318.5 417.1L317.3 415.4L316.1 413.6L315.0 411.8L312.3 411.4L311.1 409.5L310.1 407.5L309.0 405.4L308.0 403.4L307.0 401.3L306.1 399.1L307.1 395.9L306.3 393.8L305.5 391.6L304.8 389.4L304.1 387.2L303.4 385.0L302.8 382.8L302.2 380.5L301.7 378.3L301.2 376.0L300.7 373.7L300.3 371.5L300.0 369.2L299.7 366.9L299.4 364.7L299.2 362.4L299.0 360.2L298.9 358.0L298.8 355.8L298.8 353.6L298.8 351.5L296.8 348.8L296.9 346.6L297.1 344.5L297.4 342.4L297.7 340.3L298.0 338.3L300.4 337.3L300.8 335.4L301.2 333.6L301.7 331.8L302.3 330.1L302.9 328.4L303.5 326.8L304.2 325.3L304.9 323.8L305.6 322.3L306.4 320.9L307.2 319.6L308.1 318.4L309.0 317.2L310.0 316.1L310.9 315.0L312.0 314.1L313.0 313.2L314.1 312.3L314.2 309.6L315.4 308.9L316.7 308.2L317.9 307.7L319.2 307.2L320.5 306.8L322.3 308.7L323.6 308.4L324.9 308.3L326.2 308.2L327.5 308.3L328.9 308.4L330.2 308.6L331.5 308.8L332.9 309.2L334.3 309.6L335.7 310.1L337.0 310.6L338.4 311.3L339.8 312.0L341.2 312.8L342.5 313.7L343.9 314.6L345.3 315.6L346.6 316.7L348.0 317.9L349.3 319.1L350.6 320.4L351.9 321.7L353.2 323.1L354.5 324.6L355.7 326.2L358.3 326.0L359.6 327.7L360.8 329.5L362.0 331.3L363.2 333.1L364.4 335.1L365.5 337.0L364.8 340.3L365.8 342.3L366.8 344.3L367.7 346.4L368.6 348.4L369.5 350.6L370.3 352.7L371.1 354.9L371.9 357.1L372.6 359.3L373.2 361.5Z" fill="#fff" fill-rule="evenodd" stroke-width="1.75"/>
<path d="M352.3 422.8A27.4 50.7 -15 0 1 332.1 413.1" fill="none" stroke-width="1.38"/>
<path d="M312.1 353.5A27.4 50.7 -15 0 1 324.8 325.9" fill="none" stroke-width="1.38"/>
<path d="M356.3 421.8A27.4 50.7 -15 0 1 336.1 412" fill="none" stroke-width="1.38"/>
<path d="M316.1 352.4A27.4 50.7 -15 0 1 328.8 324.8" fill="none" stroke-width="1.38"/>
<path d="M360.3 420.7A27.4 50.7 -15 0 1 340.1 410.9" fill="none" stroke-width="1.38"/>
<path d="M320.1 351.3A27.4 50.7 -15 0 1 332.8 323.7" fill="none" stroke-width="1.38"/>
<path d="M364.3 419.6A27.4 50.7 -15 0 1 344.1 409.8" fill="none" stroke-width="1.38"/>
<path d="M324.1 350.2A27.4 50.7 -15 0 1 336.8 322.7" fill="none" stroke-width="1.38"/>
<path d="M369.7 418.3A27.4 50.7 -15 0 1 342.1 320.9" fill="none" stroke-width="1.62"/>
<path d="M371.0 364.5L371.6 366.7L372.2 369.0L372.7 371.2L373.1 373.5L373.5 375.8L373.8 378.1L374.2 380.3L374.4 382.6L374.6 384.8L374.8 387.0L374.9 389.3L377.2 391.8L377.2 394.0L377.1 396.3L377.0 398.5L376.9 400.6L376.7 402.8L376.4 404.9L374.1 406.1L373.8 408.0L373.4 409.9L373.0 411.8L372.6 413.6L372.1 415.4L371.5 417.1L371.0 418.8L370.3 420.4L369.7 422.0L368.9 423.5L368.2 424.9L367.4 426.3L366.6 427.6L365.7 428.9L364.8 430.0L363.8 431.2L362.9 432.2L361.9 433.2L360.8 434.1L359.7 434.9L358.6 435.7L357.5 436.3L356.3 437.0L355.2 437.5L354.0 437.9L353.3 440.4L352.0 440.7L350.6 441.0L349.3 441.1L347.9 441.2L346.5 441.2L345.0 438.9L343.6 438.7L342.3 438.4L340.9 438.1L339.5 437.7L338.2 437.2L336.8 436.6L335.4 436.0L334.0 435.2L332.6 434.4L331.3 433.6L329.9 432.6L328.5 431.6L327.2 430.5L325.9 429.4L324.5 428.2L323.2 426.9L321.9 425.5L320.6 424.1L319.3 422.6L318.1 421.1L316.9 419.5L315.7 417.9L314.5 416.1L313.3 414.4L312.2 412.6L309.4 412.2L308.3 410.2L307.2 408.2L306.2 406.2L305.2 404.1L304.2 402.0L303.3 399.9L304.3 396.7L303.5 394.5L302.7 392.4L302.0 390.2L301.2 388.0L300.6 385.8L300.0 383.5L299.4 381.3L298.8 379.0L298.3 376.8L297.9 374.5L297.5 372.2L297.2 369.9L296.8 367.7L296.6 365.4L296.4 363.2L296.2 361.0L296.1 358.7L296.0 356.5L296.0 354.4L296.0 352.2L294.0 349.5L294.1 347.4L294.3 345.2L294.6 343.1L294.9 341.1L295.2 339.0L297.6 338.1L298.0 336.2L298.4 334.4L298.9 332.6L299.5 330.9L300.0 329.2L300.7 327.6L301.3 326.0L302.1 324.5L302.8 323.1L303.6 321.7L304.4 320.4L305.3 319.1L306.2 318.0L307.2 316.8L308.1 315.8L309.1 314.8L310.2 313.9L311.3 313.1L311.4 310.3L312.6 309.6L313.9 309.0L315.1 308.4L316.4 308.0L317.7 307.6L319.5 309.4L320.8 309.2L322.1 309.1L323.4 309.0L324.7 309.0L326.0 309.1L327.4 309.3L328.7 309.6L330.1 309.9L331.5 310.3L332.8 310.8L334.2 311.4L335.6 312.0L337.0 312.8L338.4 313.6L339.7 314.4L341.1 315.4L342.5 316.4L343.8 317.5L345.1 318.6L346.5 319.8L347.8 321.1L349.1 322.5L350.4 323.9L351.7 325.4L352.9 326.9L355.5 326.8L356.8 328.5L358.0 330.2L359.2 332.0L360.4 333.9L361.6 335.8L362.7 337.8L362.0 341.1L363.0 343.1L364.0 345.1L364.9 347.1L365.8 349.2L366.7 351.3L367.5 353.5L368.3 355.6L369.0 357.8L369.8 360.0L370.4 362.2ZM363.9 367.4L364.8 370.9L365.5 374.3L366.1 377.8L366.5 381.2L366.8 384.6L367.0 388.0L367.0 391.2L366.9 394.5L366.6 397.6L366.2 400.6L365.6 403.4L364.9 406.2L364.1 408.7L363.2 411.2L362.1 413.4L360.9 415.4L359.6 417.3L358.1 418.9L356.6 420.3L355.0 421.5L353.3 422.5L351.5 423.2L349.7 423.7L347.8 424.0L345.8 424.0L343.8 423.7L341.8 423.3L339.8 422.6L337.7 421.6L335.7 420.5L333.6 419.1L331.6 417.5L329.6 415.6L327.6 413.6L325.7 411.4L323.8 409.0L322.1 406.5L320.3 403.8L318.7 400.9L317.2 397.9L315.7 394.8L314.4 391.6L313.2 388.3L312.1 385.0L311.1 381.6L310.2 378.1L309.5 374.7L308.9 371.2L308.5 367.8L308.2 364.4L308.0 361.0L308.0 357.8L308.1 354.5L308.4 351.4L308.8 348.4L309.4 345.6L310.1 342.8L310.9 340.3L311.8 337.8L312.9 335.6L314.1 333.6L315.4 331.7L316.9 330.1L318.4 328.7L320.0 327.5L321.7 326.5L323.5 325.8L325.3 325.3L327.2 325.0L329.2 325.0L331.2 325.3L333.2 325.7L335.2 326.4L337.3 327.4L339.3 328.5L341.4 329.9L343.4 331.5L345.4 333.4L347.4 335.4L349.3 337.6L351.2 340.0L352.9 342.5L354.7 345.2L356.3 348.1L357.8 351.1L359.3 354.2L360.6 357.4L361.8 360.7L362.9 364.0Z" fill="#fff" fill-rule="evenodd" stroke-width="1.75"/>
<text x="287" y="290.4" font-size="22.8" textLength="62.1" lengthAdjust="spacingAndGlyphs">35065</text>
<line x1="316.2" y1="292.5" x2="316.2" y2="313" stroke-width="1.88"/>
<path d="M325.8 376.2L326.3 378.3L326.8 380.5L327.3 382.7L327.7 384.9L328.1 387.1L328.4 389.2L328.7 391.4L329.0 393.6L329.2 395.7L329.3 397.9L329.4 400.0L329.5 402.1L329.5 404.2L329.5 406.3L331.9 409.0L331.7 411.1L331.5 413.2L331.3 415.2L331.0 417.2L330.6 419.2L327.9 419.9L327.5 421.7L327.1 423.5L326.6 425.2L326.0 426.9L325.4 428.5L324.8 430.0L324.2 431.5L323.5 433.0L322.7 434.4L321.9 435.7L321.1 437.0L320.3 438.2L319.4 439.3L318.4 440.4L317.5 441.4L316.5 442.3L315.5 443.2L314.4 444.0L313.3 444.7L312.2 445.4L311.1 446.0L309.9 446.5L308.8 446.9L307.6 447.3L306.3 447.6L305.6 450.4L304.2 450.5L302.9 450.6L301.5 450.6L300.1 450.5L298.7 450.3L297.3 450.1L296.0 447.2L294.7 446.8L293.3 446.3L292.0 445.7L290.6 445.1L289.3 444.4L288.0 443.7L286.6 442.8L285.3 441.9L284.0 441.0L282.7 439.9L281.3 438.8L280.0 437.7L278.8 436.4L277.5 435.1L276.3 433.8L275.0 432.4L273.8 430.9L272.6 429.4L271.4 427.8L270.3 426.1L269.2 424.5L268.1 422.7L267.0 421.0L266.0 419.1L265.0 417.3L261.9 416.9L260.9 414.9L259.9 412.8L259.0 410.7L258.1 408.6L257.3 406.5L258.9 403.3L258.2 401.2L257.5 399.1L256.8 397.0L256.2 394.8L255.7 392.7L255.2 390.5L254.7 388.3L254.3 386.1L253.9 383.9L253.6 381.8L253.3 379.6L253.0 377.4L252.8 375.3L252.7 373.1L252.6 371.0L252.5 368.9L252.5 366.8L252.5 364.7L252.6 362.7L252.7 360.6L250.5 357.8L250.7 355.8L251.0 353.8L251.4 351.8L251.8 349.9L252.2 348.0L252.7 346.2L255.4 345.8L256.0 344.1L256.6 342.5L257.2 341.0L257.8 339.5L258.5 338.0L259.3 336.6L260.1 335.3L260.9 334.0L261.7 332.8L262.6 331.7L263.6 330.6L264.5 329.6L265.5 328.7L266.5 327.8L267.6 327.0L267.6 323.9L268.7 323.2L270.0 322.6L271.2 322.0L272.5 321.6L273.8 321.2L275.7 323.4L276.9 323.2L278.2 323.1L279.4 323.0L280.7 323.0L282.0 323.1L283.3 323.3L284.7 323.5L286.0 323.8L287.3 324.2L288.7 324.7L290.0 325.3L291.4 325.9L292.7 326.6L294.0 327.3L295.4 328.2L296.7 329.1L298.0 330.0L299.3 331.1L300.7 332.2L302.0 333.3L303.2 334.6L304.5 335.9L305.7 337.2L307.0 338.6L308.2 340.1L309.4 341.6L310.6 343.2L311.7 344.9L314.7 344.7L315.8 346.5L316.9 348.3L318.0 350.2L319.1 352.1L320.1 354.1L318.9 357.5L319.8 359.5L320.7 361.5L321.6 363.5L322.4 365.6L323.1 367.7L323.8 369.8L324.5 371.9L325.2 374.0ZM319.7 381.6L320.6 384.9L321.3 388.3L321.8 391.7L322.2 395.1L322.5 398.5L322.6 401.8L322.6 405.1L322.4 408.2L322.0 411.3L321.6 414.3L320.9 417.1L320.2 419.8L319.3 422.4L318.2 424.8L317.1 427.0L315.8 429.0L314.4 430.9L312.9 432.5L311.2 434.0L309.5 435.2L307.7 436.1L305.9 436.9L303.9 437.4L301.9 437.7L299.9 437.7L297.8 437.5L295.7 437.1L293.6 436.5L291.4 435.6L289.3 434.4L287.2 433.1L285.1 431.5L283.0 429.8L281.0 427.8L279.0 425.7L277.1 423.3L275.3 420.8L273.6 418.2L271.9 415.4L270.3 412.5L268.9 409.4L267.5 406.3L266.3 403.1L265.2 399.8L264.3 396.4L263.4 393.1L262.7 389.7L262.2 386.3L261.8 382.9L261.5 379.5L261.4 376.2L261.4 372.9L261.6 369.8L262.0 366.7L262.4 363.7L263.1 360.9L263.8 358.2L264.7 355.6L265.8 353.2L266.9 351.0L268.2 349.0L269.6 347.1L271.1 345.5L272.8 344.0L274.5 342.8L276.3 341.9L278.1 341.1L280.1 340.6L282.1 340.3L284.1 340.3L286.2 340.5L288.3 340.9L290.4 341.5L292.6 342.4L294.7 343.6L296.8 344.9L298.9 346.5L301.0 348.2L303.0 350.2L305.0 352.3L306.9 354.7L308.7 357.2L310.4 359.8L312.1 362.6L313.7 365.5L315.1 368.6L316.5 371.7L317.7 374.9L318.8 378.2Z" fill="#fff" fill-rule="evenodd" stroke-width="1.88"/>
<line x1="305" y1="448.8" x2="305" y2="473.8" stroke-width="1.88"/>
<text x="273.8" y="491.4" font-size="22.8" textLength="74.5" lengthAdjust="spacingAndGlyphs">35672B</text>
<path d="M258.7 361.3A16.7 32.8 -15 1 1 250.4 363.5" fill="none" stroke-width="1.88"/>
<path d="M262.4 365.2A14.5 30.5 -15 0 1 268.1 422.7" fill="none" stroke-width="1.5"/>
<line x1="260" y1="425" x2="260" y2="448.8" stroke-width="1.88"/>
<text x="228.8" y="466.4" font-size="22.8" textLength="74.5" lengthAdjust="spacingAndGlyphs">35606E</text>
<path d="M213.6 364.1L191.6 370.1L212.7 449L234.7 443" fill="#fff" stroke-width="1.75"/>
<path d="M213.6 364.1A23 41.5 -15 1 1 234.7 443" fill="#fff" stroke-width="2"/>
<path d="M212.7 364.8A22 40.5 -15 1 1 233.6 442.8" fill="none" stroke-width="1.5"/>
<path d="M198.3 367.6A23 41.5 -15 1 1 220.8 447" fill="none" stroke-width="1.88"/>
<path d="M200.5 368.2A23 40.5 -15 0 1 223.5 375.5" fill="none" stroke-width="4.25"/>
<path d="M204.5 367.1A23 40.5 -15 0 1 225.1 371.9" fill="none" stroke-width="3.75"/>
<path d="M208.5 366.1A23 40.5 -15 0 1 224.9 367.7" fill="none" stroke-width="3.25"/>
<line x1="222.2" y1="383.9" x2="236.9" y2="380.4" stroke-width="6.6"/>
<line x1="222.5" y1="383.9" x2="236.6" y2="380.4" stroke="#fff" stroke-width="2.6"/>
<line x1="227.1" y1="393.6" x2="241.6" y2="389.9" stroke-width="6.6"/>
<line x1="227.4" y1="393.6" x2="241.3" y2="389.9" stroke="#fff" stroke-width="2.6"/>
<line x1="230.5" y1="404.4" x2="245.0" y2="400.6" stroke-width="6.6"/>
<line x1="230.8" y1="404.4" x2="244.7" y2="400.6" stroke="#fff" stroke-width="2.6"/>
<line x1="232.1" y1="415.5" x2="246.6" y2="411.5" stroke-width="6.6"/>
<line x1="232.4" y1="415.5" x2="246.3" y2="411.5" stroke="#fff" stroke-width="2.6"/>
<line x1="231.9" y1="425.8" x2="246.4" y2="421.7" stroke-width="6.6"/>
<line x1="232.2" y1="425.8" x2="246.1" y2="421.7" stroke="#fff" stroke-width="2.6"/>
<line x1="229.7" y1="434.5" x2="244.4" y2="430.3" stroke-width="6.6"/>
<line x1="230.0" y1="434.5" x2="244.1" y2="430.3" stroke="#fff" stroke-width="2.6"/>
<text x="190" y="341.4" font-size="22.8" textLength="62.1" lengthAdjust="spacingAndGlyphs">35604</text>
<line x1="219.5" y1="343.8" x2="219.5" y2="363" stroke-width="1.88"/>
<ellipse cx="184" cy="414" rx="34" ry="62" transform="rotate(-15 184 414)" fill="#fff" stroke-width="2"/>
<ellipse cx="180.5" cy="415" rx="34" ry="62" transform="rotate(-15 180.5 415)" fill="#fff" stroke-width="1.62"/>
<ellipse cx="177" cy="416" rx="34" ry="62" transform="rotate(-15 177 416)" fill="#fff" stroke-width="1.62"/>
<ellipse cx="175.5" cy="416.5" rx="32" ry="59" transform="rotate(-15 175.5 416.5)" fill="none" stroke-width="1.62"/>
<path d="M149.3 382.2A28 52 -15 1 1 180.4 465.7" fill="none" stroke-width="1.62"/>
<path d="M155.4 379.9A25 47 -15 1 1 185.8 461.8" fill="none" stroke-width="1.62"/>
<path d="M160.9 384.3A21 40 -15 1 1 188.5 454" fill="none" stroke-width="1.62"/>
<ellipse cx="181" cy="414.5" rx="18" ry="35" transform="rotate(-15 181 414.5)" fill="none" stroke-width="1.88"/>
<path d="M169.8 387.2A15.5 31 -15 1 1 187.8 444.2" fill="none" stroke-width="1.62"/>
<path d="M175.2 389.4A13 26 -15 1 1 190.7 438.6" fill="none" stroke-width="1.5"/>
<path d="M172.1 466.5A26 48 -15 0 1 147.7 379" fill="none" stroke-width="1.75"/>
<path d="M175.5 462.7A24.8 46 -15 0 1 153 380.2" fill="none" stroke-width="1.75"/>
<path d="M178.6 459.1A23.6 44 -15 0 1 157.8 381.4" fill="none" stroke-width="1.75"/>
<path d="M181.9 455.3A22.4 42 -15 0 1 162.7 382.6" fill="none" stroke-width="1.75"/>
<path d="M186.3 451.2A21.2 40 -15 0 1 168.8 383.5" fill="none" stroke-width="1.75"/>
<path d="M189.7 447.5A20 38 -15 0 1 173.8 384.7" fill="none" stroke-width="1.75"/>
<text x="151" y="307.4" font-size="22.8" textLength="74.5" lengthAdjust="spacingAndGlyphs">35606A</text>
<line x1="180.8" y1="310" x2="180.8" y2="356" stroke-width="1.88"/>
<ellipse cx="144.8" cy="424" rx="35.6" ry="60.3" transform="rotate(-15 144.8 424)" fill="none" stroke-width="2.12"/>
<ellipse cx="143" cy="423.5" rx="19.4" ry="33.2" transform="rotate(-15 143 423.5)" fill="none" stroke-width="2"/>
<text x="100" y="335.9" font-size="22.8" textLength="74.5" lengthAdjust="spacingAndGlyphs">35606C</text>
<text class="s" x="107.5" y="354" font-size="15.2" textLength="49.5" lengthAdjust="spacingAndGlyphs">(INNER)</text>
<line x1="133.2" y1="356" x2="133.2" y2="392.5" stroke-width="1.88"/>
<text x="83.8" y="502.4" font-size="22.8" textLength="74.5" lengthAdjust="spacingAndGlyphs">35606C</text>
<text class="s" x="94.5" y="519" font-size="15.2" textLength="49.5" lengthAdjust="spacingAndGlyphs">(OUTER)</text>
<line x1="113.8" y1="442.5" x2="113.8" y2="485" stroke-width="1.88"/>
<path d="M63.8 545L63.8 658L90 650.5" fill="none" stroke-width="1.62" stroke-dasharray="7 4.4"/>
<path d="M652.5 488.5L670 484L670 582.5L526 625" fill="none" stroke-width="1.62" stroke-dasharray="7 4.4"/>
<path d="M480 637.5L39.5 766.5L39.5 892.5L66 884.5" fill="none" stroke-width="1.62" stroke-dasharray="7 4.4"/>
<ellipse cx="106.2" cy="641.2" rx="10.9" ry="15.3" transform="rotate(-15 106.2 641.2)" fill="none" stroke-width="1.88"/>
<ellipse cx="106.8" cy="641.2" rx="8.2" ry="12.6" transform="rotate(-15 106.8 641.2)" fill="none" stroke-width="1.62"/>
<ellipse cx="137.5" cy="631.2" rx="10.1" ry="15.3" transform="rotate(-15 137.5 631.2)" fill="none" stroke-width="1.88"/>
<ellipse cx="138" cy="631.2" rx="7.4" ry="12.6" transform="rotate(-15 138 631.2)" fill="none" stroke-width="1.62"/>
<ellipse cx="167.5" cy="622.5" rx="10.2" ry="14.8" transform="rotate(-15 167.5 622.5)" fill="none" stroke-width="1.88"/>
<ellipse cx="168" cy="622.5" rx="7.5" ry="12.1" transform="rotate(-15 168 622.5)" fill="none" stroke-width="1.62"/>
<text x="106.2" y="593.4" font-size="22.8" textLength="74.5" lengthAdjust="spacingAndGlyphs">35712A</text>
<line x1="135" y1="596" x2="135" y2="617.5" stroke-width="1.88"/>
<text x="138" y="670.4" font-size="22.8" textLength="74.5" lengthAdjust="spacingAndGlyphs">35712A</text>
<line x1="168" y1="637" x2="168" y2="653.8" stroke-width="1.88"/>
<text x="73.8" y="690.9" font-size="22.8" textLength="74.5" lengthAdjust="spacingAndGlyphs">35712A</text>
<line x1="105" y1="655" x2="105" y2="673.8" stroke-width="1.88"/>
<ellipse cx="207.2" cy="613.4" rx="23.8" ry="35.2" transform="rotate(-15 207.2 613.4)" fill="none" stroke-width="2.12"/>
<ellipse cx="207.8" cy="613.4" rx="21.6" ry="33" transform="rotate(-15 207.8 613.4)" fill="none" stroke-width="1.5"/>
<path d="M222.6 609.3L222.8 610.3L223.1 611.2L223.3 612.2L223.5 613.2L223.7 614.2L223.8 615.2L223.9 616.2L224.1 617.2L224.1 618.2L224.2 619.2L224.3 620.1L224.3 621.1L224.3 622.1L224.3 623.0L224.2 623.9L224.2 624.8L224.1 625.8L224.0 626.6L223.9 627.5L223.7 628.4L223.6 629.2L223.4 630.0L223.2 630.8L223.0 631.6L222.7 632.4L222.5 633.1L222.2 633.8L221.9 634.5L221.6 635.2L221.2 635.8L220.9 636.4L220.5 637.0L220.1 637.5L219.7 638.0L219.3 638.5L218.9 639.0L218.4 639.4L217.9 639.8L217.5 640.2L217.0 640.5L216.5 640.8L216.0 641.1L215.4 641.3L214.9 641.5L214.4 641.7L213.8 641.8L213.2 641.9L212.7 642.0L212.1 642.0L211.5 642.0L210.9 641.9L210.3 641.9L209.7 641.8L209.1 641.6L208.5 641.4L207.9 641.2L207.3 641.0L206.7 640.7L206.1 640.4L205.4 640.0L204.1 642.0L203.4 641.6L202.7 641.1L202.1 640.6L201.4 640.1L200.7 639.5L200.1 638.9L199.4 638.3L198.8 637.6L199.6 634.9L199.0 634.2L198.5 633.5L197.9 632.8L197.4 632.0L196.9 631.3L196.4 630.5L195.9 629.7L195.4 628.8L195.0 628.0L194.5 627.1L194.1 626.2L193.7 625.3L193.3 624.4L192.9 623.5L192.6 622.6L192.2 621.6L191.9 620.7L191.6 619.7L191.3 618.7L191.0 617.7L190.8 616.7L190.5 615.8L190.3 614.8L190.1 613.8L189.9 612.8L189.8 611.8L189.7 610.8L189.5 609.8L189.5 608.8L189.4 607.8L189.3 606.9L189.3 605.9L189.3 604.9L189.3 604.0L189.4 603.1L189.4 602.2L189.5 601.2L189.6 600.4L189.7 599.5L189.9 598.6L190.0 597.8L190.2 597.0L190.4 596.2L190.6 595.4L190.9 594.6L191.1 593.9L191.4 593.2L191.7 592.5L192.0 591.8L192.4 591.2L192.7 590.6L193.1 590.0L193.5 589.5L193.9 589.0L194.3 588.5L193.4 585.9L193.9 585.4L194.4 585.0L195.0 584.6L195.6 584.2L196.1 583.9L196.7 583.6L197.4 583.3L198.0 583.1L199.2 585.3L199.8 585.2L200.4 585.1L200.9 585.0L201.5 585.0L202.1 585.0L202.7 585.1L203.3 585.1L203.9 585.2L204.5 585.4L205.1 585.6L205.7 585.8L206.3 586.0L206.9 586.3L207.5 586.6L208.2 587.0L208.8 587.4L209.4 587.8L210.0 588.2L210.6 588.7L211.2 589.2L211.8 589.7L212.3 590.3L212.9 590.9L213.5 591.5L214.0 592.1L214.6 592.8L215.1 593.5L215.7 594.2L216.2 595.0L216.7 595.7L217.2 596.5L217.7 597.3L218.2 598.2L218.6 599.0L219.1 599.9L219.5 600.8L219.9 601.7L220.3 602.6L220.7 603.5L221.0 604.4L221.4 605.4L221.7 606.3L222.0 607.3L222.3 608.3Z" fill="none" fill-rule="evenodd" stroke-width="2.00"/>
<path d="M203.9 582.6A20.2 31.2 -15 0 1 213.1 643.8" fill="none" stroke-width="1.62"/>
<text x="170" y="542.9" font-size="22.8" textLength="62.1" lengthAdjust="spacingAndGlyphs">35686</text>
<line x1="199.5" y1="545" x2="199.5" y2="578.8" stroke-width="1.88"/>
<ellipse cx="250" cy="600" rx="16" ry="23.8" transform="rotate(-15 250 600)" fill="none" stroke-width="2.25"/>
<ellipse cx="251" cy="600" rx="13.5" ry="21.3" transform="rotate(-15 251 600)" fill="none" stroke-width="1.5"/>
<ellipse cx="248.4" cy="601.2" rx="5.9" ry="14.2" transform="rotate(-15 248.4 601.2)" fill="none" stroke-width="2.25"/>
<ellipse cx="249.6" cy="601" rx="9.6" ry="18" transform="rotate(-15 249.6 601)" fill="none" stroke-width="1.62"/>
<line x1="239.1" y1="600.5" x2="237.5" y2="598" stroke-width="1.5"/>
<line x1="238.8" y1="593.8" x2="237.8" y2="590.6" stroke-width="1.5"/>
<line x1="240" y1="588.2" x2="239.9" y2="584.5" stroke-width="1.5"/>
<line x1="242.6" y1="584.4" x2="243.7" y2="580.6" stroke-width="1.5"/>
<line x1="246.2" y1="583" x2="248.6" y2="579.6" stroke-width="1.5"/>
<text x="220" y="561.6" font-size="22.8" textLength="74.5" lengthAdjust="spacingAndGlyphs">35701R</text>
<line x1="248" y1="564.5" x2="248" y2="577.5" stroke-width="1.88"/>
<path d="M336 511L341 507.5L376 495L391 493.8L406 497.5L426 530L432.5 532.5L436 542.5L441.5 575L440 587.5L434 617.5L405 620L365 630" fill="#fff" stroke-width="1.88"/>
<path d="M400 537.5L427.5 530L435 543.8L407.5 552.5" fill="none" stroke-width="1.88"/>
<path d="M407.5 552.5L436 545L442 575L412.5 580" fill="none" stroke-width="1.88"/>
<path d="M412.5 580L442 576L435 612.5L405 617.5" fill="none" stroke-width="1.88"/>
<path d="M376 507.5L405 500L406 497.5" fill="none" stroke-width="1.88"/>
<path d="M341 507.5L347 510L378 499" fill="none" stroke-width="1.88"/>
<ellipse cx="353.8" cy="564.8" rx="46.7" ry="66.4" transform="rotate(-15 353.8 564.8)" fill="#fff" stroke-width="2"/>
<path d="M365.4 626.7A43.2 63.4 -15 1 1 351.4 502.5" fill="none" stroke-width="1.62"/>
<path d="M378.4 507.3A46.7 66.4 -15 0 1 393.8 617.9" fill="none" stroke-width="1.62"/>
<path d="M363.6 622.1A37.7 57.4 -15 0 1 337.1 510.6" fill="none" stroke-width="1.62"/>
<path d="M357.9 615.4A32.7 52.4 -15 0 1 337.2 516.6" fill="none" stroke-width="1.5"/>
<path d="M349.3 520.6A22.3 48.8 -15 1 1 380 612.5" fill="none" stroke-width="1.88"/>
<line x1="331.2" y1="524.7" x2="350.7" y2="519.7" stroke-width="1.88"/>
<line x1="337.7" y1="523.6" x2="357.2" y2="518.6" stroke-width="1.88"/>
<line x1="345" y1="526.7" x2="364.5" y2="521.7" stroke-width="1.88"/>
<line x1="352.3" y1="533.6" x2="371.8" y2="528.6" stroke-width="1.88"/>
<line x1="359.1" y1="543.8" x2="378.6" y2="538.8" stroke-width="1.88"/>
<line x1="364.8" y1="556.3" x2="384.3" y2="551.3" stroke-width="1.88"/>
<line x1="368.8" y1="570.2" x2="388.3" y2="565.2" stroke-width="1.88"/>
<line x1="370.8" y1="584.1" x2="390.3" y2="579.1" stroke-width="1.88"/>
<line x1="370.6" y1="596.9" x2="390.1" y2="591.9" stroke-width="1.88"/>
<line x1="368.3" y1="607.4" x2="387.8" y2="602.4" stroke-width="1.88"/>
<line x1="364.1" y1="614.7" x2="383.6" y2="609.7" stroke-width="1.88"/>
<ellipse cx="346" cy="571" rx="22.3" ry="48.8" transform="rotate(-15 346 571)" fill="#fff" stroke-width="2"/>
<ellipse cx="345" cy="571.5" rx="15.3" ry="43.8" transform="rotate(-15 345 571.5)" fill="none" stroke-width="1.62"/>
<path d="M334.8 536.5A8.3 38.8 -15 1 1 355.5 608.3" fill="none" stroke-width="1.62"/>
<ellipse cx="350" cy="575.5" rx="3.4" ry="14.5" transform="rotate(-15 350 575.5)" fill="#fff" stroke-width="2.12"/>
<ellipse cx="344" cy="576.7" rx="3.4" ry="13.6" transform="rotate(-15 344 576.7)" fill="#fff" stroke-width="2.12"/>
<ellipse cx="338" cy="577.9" rx="3.4" ry="12.7" transform="rotate(-15 338 577.9)" fill="#fff" stroke-width="2.12"/>
<ellipse cx="332" cy="579.1" rx="3.4" ry="11.8" transform="rotate(-15 332 579.1)" fill="#fff" stroke-width="2.12"/>
<ellipse cx="326" cy="580.3" rx="3.4" ry="10.9" transform="rotate(-15 326 580.3)" fill="#fff" stroke-width="2.12"/>
<path d="M273.2 588.7L286.6 585.5L287.4 584L304.8 580L307.1 590.3L289 594.2L288.2 593.4L273.2 596.6L271.6 594.2Z" fill="#fff" stroke-width="1.88"/>
<path d="M300 577.5L305 573.8L319.5 571.5L321.3 591.5L308 594.5L302 592.5Z" fill="#fff" stroke-width="2"/>
<line x1="306" y1="575" x2="307.2" y2="593.2" stroke-width="1.25"/>
<line x1="309" y1="574.5" x2="310.2" y2="592.7" stroke-width="1.25"/>
<line x1="312" y1="574" x2="313.2" y2="592.2" stroke-width="1.25"/>
<line x1="315" y1="573.5" x2="316.2" y2="591.7" stroke-width="1.25"/>
<line x1="318" y1="573" x2="319.2" y2="591.2" stroke-width="1.25"/>
<text x="359.5" y="475.4" font-size="22.8" textLength="62.1" lengthAdjust="spacingAndGlyphs">35701</text>
<line x1="387" y1="477.5" x2="387" y2="496" stroke-width="1.88"/>
<ellipse cx="541" cy="518.5" rx="30.1" ry="60" transform="rotate(-15 541 518.5)" fill="#fff" stroke-width="2.12"/>
<ellipse cx="538.2" cy="519.2" rx="30.1" ry="60" transform="rotate(-15 538.2 519.2)" fill="#fff" stroke-width="1.62"/>
<ellipse cx="535.4" cy="520" rx="30.1" ry="60" transform="rotate(-15 535.4 520)" fill="#fff" stroke-width="1.62"/>
<ellipse cx="532.6" cy="520.8" rx="30.1" ry="60" transform="rotate(-15 532.6 520.8)" fill="#fff" stroke-width="1.62"/>
<ellipse cx="530" cy="521.5" rx="30.1" ry="60" transform="rotate(-15 530 521.5)" fill="#fff" stroke-width="1.62"/>
<ellipse cx="528" cy="522" rx="30.1" ry="60" transform="rotate(-15 528 522)" fill="#fff" stroke-width="2"/>
<path d="M501.1 519.4A27.1 56.5 -15 1 1 559.1 534.1" fill="none" stroke-width="1.5"/>
<ellipse cx="533" cy="526" rx="25.6" ry="41.9" transform="rotate(-15 533 526)" fill="none" stroke-width="1.75"/>
<path d="M555.3 521.3A22.1 37.4 -15 1 1 510.6 520" fill="none" stroke-width="1.5"/>
<ellipse cx="534.5" cy="527.5" rx="17.6" ry="28.1" transform="rotate(-15 534.5 527.5)" fill="none" stroke-width="2"/>
<path d="M537.8 499.4A19.4 30.6 -15 0 1 532.8 555.6" fill="none" stroke-width="1.5"/>
<ellipse cx="535.5" cy="527.5" rx="8.9" ry="19.5" transform="rotate(-15 535.5 527.5)" fill="none" stroke-width="2.5"/>
<path d="M531.5 509.2A6.9 19 -15 0 1 543.5 544.8" fill="none" stroke-width="1.5"/>
<text x="516" y="439.9" font-size="22.8" textLength="62.1" lengthAdjust="spacingAndGlyphs">35602</text>
<line x1="543.8" y1="445.5" x2="543.8" y2="465" stroke-width="1.88"/>
<path d="M577.3 464.7L552.8 471.2L575 554L599.5 547.5" fill="#fff" stroke-width="1.75"/>
<path d="M577.3 464.7A24.3 43.5 -15 1 1 599.5 547.5" fill="#fff" stroke-width="2.12"/>
<path d="M574.8 466.4A23.3 42.5 -15 1 1 596.4 547.3" fill="none" stroke-width="1.5"/>
<path d="M561.8 468.7A24.3 43.5 -15 1 1 584 551.5" fill="none" stroke-width="1.75"/>
<path d="M564.8 467.9A24.3 43.5 -15 0 1 586.4 472" fill="none" stroke-width="4"/>
<path d="M568.8 466.9A24.3 43.5 -15 0 1 585.1 467.1" fill="none" stroke-width="3.25"/>
<ellipse cx="586" cy="510" rx="11" ry="21.5" transform="rotate(-15 586 510)" fill="none" stroke-width="1.75"/>
<path d="M583.9 490.6A8 19.5 -15 0 1 591.1 528.4" fill="none" stroke-width="1.38"/>
<path d="M572 475.6A18.3 39.5 -15 0 1 589.7 541.7" fill="none" stroke-width="1.5"/>
<line x1="585.4" y1="475.7" x2="595.2" y2="473.5" stroke-width="6.6"/>
<line x1="585.7" y1="475.7" x2="594.9" y2="473.5" stroke="#fff" stroke-width="2.6"/>
<line x1="591.7" y1="483.6" x2="601.4" y2="481.3" stroke-width="6.6"/>
<line x1="592.0" y1="483.6" x2="601.1" y2="481.3" stroke="#fff" stroke-width="2.6"/>
<line x1="596.9" y1="493.7" x2="606.5" y2="491.2" stroke-width="6.6"/>
<line x1="597.2" y1="493.7" x2="606.2" y2="491.2" stroke="#fff" stroke-width="2.6"/>
<line x1="600.6" y1="505.1" x2="610.1" y2="502.5" stroke-width="6.6"/>
<line x1="600.9" y1="505.1" x2="609.8" y2="502.5" stroke="#fff" stroke-width="2.6"/>
<line x1="602.4" y1="516.7" x2="611.9" y2="514.0" stroke-width="6.6"/>
<line x1="602.7" y1="516.7" x2="611.6" y2="514.0" stroke="#fff" stroke-width="2.6"/>
<line x1="602.2" y1="527.7" x2="611.7" y2="524.8" stroke-width="6.6"/>
<line x1="602.5" y1="527.7" x2="611.4" y2="524.8" stroke="#fff" stroke-width="2.6"/>
<line x1="600.1" y1="536.9" x2="609.7" y2="533.9" stroke-width="6.6"/>
<line x1="600.4" y1="536.9" x2="609.4" y2="533.9" stroke="#fff" stroke-width="2.6"/>
<line x1="596.1" y1="543.7" x2="605.8" y2="540.6" stroke-width="6.6"/>
<line x1="596.4" y1="543.7" x2="605.5" y2="540.6" stroke="#fff" stroke-width="2.6"/>
<text x="565" y="584.1" font-size="22.8" textLength="74.5" lengthAdjust="spacingAndGlyphs">35603A</text>
<line x1="595" y1="541" x2="595" y2="568.8" stroke-width="1.88"/>
<path d="M632.6 506.7A12.6 20.4 -15 1 1 637 510.2" fill="none" stroke-width="1.88"/>
<path d="M634 505A10.6 18.4 -15 1 1 637.8 508.3" fill="none" stroke-width="1.5"/>
<text x="605" y="447.9" font-size="22.8" textLength="74.5" lengthAdjust="spacingAndGlyphs">35602D</text>
<line x1="634" y1="452.5" x2="634" y2="467.5" stroke-width="1.88"/>
<path d="M490.4 589.9A35.3 58.2 -15 1 1 503.5 586.8" fill="none" stroke-width="2"/>
<ellipse cx="482.5" cy="535.2" rx="14.2" ry="23.2" transform="rotate(-15 482.5 535.2)" fill="none" stroke-width="1.88"/>
<text x="434.5" y="439.1" font-size="22.8" textLength="74.5" lengthAdjust="spacingAndGlyphs">35602B</text>
<text class="s" x="445" y="456.5" font-size="15.2" textLength="49.5" lengthAdjust="spacingAndGlyphs">(OUTER)</text>
<line x1="468.8" y1="460" x2="468.8" y2="476" stroke-width="1.88"/>
<text x="457.5" y="612.4" font-size="22.8" textLength="74.5" lengthAdjust="spacingAndGlyphs">35602B</text>
<text class="s" x="466.2" y="629" font-size="15.2" textLength="49" lengthAdjust="spacingAndGlyphs">(INNER)</text>
<line x1="490" y1="557.5" x2="490" y2="595" stroke-width="1.88"/>
<path d="M587.5 724.5L625 714.5L625 853.8L252.5 967L252.5 1048L267.5 1042" fill="none" stroke-width="1.62" stroke-dasharray="7 4.4"/>
<path d="M530.1 676.1A35.4 64 -15 1 1 513.5 686.3" fill="none" stroke-width="2"/>
<path d="M530.6 679A32.6 61 -15 1 1 515.4 688.7" fill="none" stroke-width="1.62"/>
<path d="M544.7 738.3L545.3 740.4L545.8 742.5L546.2 744.6L546.6 746.6L547.0 748.7L547.3 750.8L547.6 752.9L547.9 755.0L548.1 757.1L548.3 759.1L548.4 761.2L548.5 763.2L548.5 765.2L548.5 767.2L548.4 769.1L548.3 771.1L550.7 773.8L550.5 775.8L550.2 777.7L549.9 779.6L549.5 781.4L549.2 783.2L548.7 785.0L546.1 785.2L545.6 786.8L545.1 788.4L544.5 789.9L543.9 791.3L543.3 792.7L542.6 794.0L541.9 795.3L541.2 796.5L540.4 797.6L539.6 798.7L540.3 801.8L539.4 802.8L538.4 803.8L537.4 804.6L536.3 805.4L535.3 806.2L533.2 804.4L532.1 805.0L531.1 805.5L530.0 805.9L528.9 806.2L527.8 806.5L526.7 806.6L525.5 806.8L524.3 806.8L523.2 806.8L522.0 806.7L520.8 809.1L519.5 808.8L518.2 808.5L516.9 808.1L515.6 807.6L514.2 807.1L512.9 806.5L512.2 803.2L510.9 802.5L509.7 801.7L508.4 800.8L507.2 799.8L506.0 798.8L504.8 797.8L503.6 796.6L502.4 795.4L501.2 794.2L500.1 792.9L498.9 791.5L497.8 790.1L496.7 788.6L495.6 787.1L494.5 785.5L493.5 783.9L492.5 782.2L489.5 782.2L488.5 780.4L487.5 778.5L486.5 776.6L485.6 774.7L484.7 772.7L483.8 770.7L485.3 767.5L484.5 765.5L483.8 763.5L483.1 761.5L482.5 759.4L481.8 757.4L481.3 755.3L480.7 753.2L480.2 751.1L479.8 749.0L479.4 747.0L479.0 744.9L478.7 742.8L478.4 740.7L478.1 738.6L477.9 736.5L477.7 734.5L477.6 732.4L477.5 730.4L477.5 728.4L477.5 726.4L475.0 723.8L475.2 721.8L475.3 719.8L475.5 717.8L475.8 715.9L476.1 714.0L478.8 713.4L479.1 711.7L479.5 710.0L479.9 708.4L480.4 706.8L480.9 705.2L481.5 703.7L482.1 702.3L482.7 700.9L483.4 699.6L484.1 698.3L484.8 697.1L485.6 696.0L486.4 694.9L487.2 693.9L488.1 692.9L489.0 692.1L489.9 691.2L490.8 690.5L490.7 687.4L491.8 686.8L492.9 686.2L494.1 685.7L495.2 685.3L496.4 684.9L498.2 687.1L499.3 687.0L500.5 686.8L501.7 686.8L502.8 686.8L504.0 686.9L505.2 687.1L506.4 687.4L507.7 687.7L508.9 688.1L510.1 688.5L511.4 689.1L512.6 689.7L513.8 690.4L515.1 691.1L516.3 691.9L517.6 692.8L518.8 693.8L520.0 694.8L522.3 693.5L523.6 694.7L524.9 695.9L526.1 697.2L527.3 698.6L528.6 700.0L528.2 703.5L529.3 705.0L530.4 706.5L531.5 708.1L532.5 709.7L533.5 711.4L534.5 713.1L535.5 714.9L536.5 716.7L537.4 718.5L538.3 720.4L541.3 720.9L542.2 722.9L543.0 725.0L543.8 727.0L544.6 729.1L545.3 731.2L546.0 733.3L544.2 736.2ZM533.9 740.3L534.7 743.6L535.4 747.0L536.0 750.3L536.4 753.6L536.8 756.9L536.9 760.2L537.0 763.4L536.9 766.5L536.7 769.5L536.4 772.4L535.9 775.1L535.3 777.8L534.5 780.3L533.7 782.6L532.7 784.7L531.6 786.7L530.4 788.4L529.1 790.0L527.8 791.4L526.3 792.5L524.7 793.4L523.1 794.1L521.4 794.6L519.6 794.8L517.8 794.8L516.0 794.5L514.1 794.0L512.2 793.3L510.3 792.4L508.3 791.2L506.4 789.9L504.5 788.3L502.7 786.5L500.8 784.5L499.0 782.4L497.3 780.0L495.6 777.5L494.0 774.9L492.4 772.1L491.0 769.2L489.6 766.2L488.3 763.1L487.1 759.9L486.1 756.6L485.1 753.3L484.3 750.0L483.6 746.6L483.0 743.3L482.6 740.0L482.2 736.7L482.1 733.4L482.0 730.2L482.1 727.1L482.3 724.1L482.6 721.2L483.1 718.5L483.7 715.8L484.5 713.3L485.3 711.0L486.3 708.9L487.4 706.9L488.6 705.2L489.9 703.6L491.2 702.2L492.7 701.1L494.3 700.2L495.9 699.5L497.6 699.0L499.4 698.8L501.2 698.8L503.0 699.1L504.9 699.6L506.8 700.3L508.7 701.2L510.7 702.4L512.6 703.7L514.5 705.3L516.3 707.1L518.2 709.1L520.0 711.2L521.7 713.6L523.4 716.1L525.0 718.7L526.6 721.5L528.0 724.4L529.4 727.4L530.7 730.5L531.9 733.7L532.9 737.0Z" fill="#fff" fill-rule="evenodd" stroke-width="1.88"/>
<path d="M542.3 739.0L542.9 741.1L543.4 743.2L543.8 745.3L544.2 747.3L544.6 749.4L544.9 751.5L545.2 753.6L545.5 755.7L545.7 757.8L545.9 759.8L546.0 761.9L546.1 763.9L546.1 765.9L546.1 767.9L546.0 769.8L545.9 771.8L548.3 774.5L548.1 776.5L547.8 778.4L547.5 780.3L547.1 782.1L546.8 783.9L546.3 785.7L543.7 785.9L543.2 787.5L542.7 789.1L542.1 790.6L541.5 792.0L540.9 793.4L540.2 794.7L539.5 796.0L538.8 797.2L538.0 798.3L537.2 799.4L537.9 802.5L537.0 803.5L536.0 804.5L535.0 805.3L533.9 806.1L532.9 806.9L530.8 805.1L529.7 805.7L528.7 806.2L527.6 806.6L526.5 806.9L525.4 807.2L524.3 807.3L523.1 807.5L521.9 807.5L520.8 807.5L519.6 807.4L518.4 809.8L517.1 809.5L515.8 809.2L514.5 808.8L513.2 808.3L511.8 807.8L510.5 807.2L509.8 803.9L508.5 803.2L507.3 802.4L506.0 801.5L504.8 800.5L503.6 799.5L502.4 798.5L501.2 797.3L500.0 796.1L498.8 794.9L497.7 793.6L496.5 792.2L495.4 790.8L494.3 789.3L493.2 787.8L492.1 786.2L491.1 784.6L490.1 782.9L487.1 782.9L486.1 781.1L485.1 779.2L484.1 777.3L483.2 775.4L482.3 773.4L481.4 771.4L482.9 768.2L482.1 766.2L481.4 764.2L480.7 762.2L480.1 760.1L479.4 758.1L478.9 756.0L478.3 753.9L477.8 751.8L477.4 749.7L477.0 747.7L476.6 745.6L476.3 743.5L476.0 741.4L475.7 739.3L475.5 737.2L475.3 735.2L475.2 733.1L475.1 731.1L475.1 729.1L475.1 727.1L472.6 724.5L472.8 722.5L472.9 720.5L473.1 718.5L473.4 716.6L473.7 714.7L476.4 714.1L476.7 712.4L477.1 710.7L477.5 709.1L478.0 707.5L478.5 705.9L479.1 704.4L479.7 703.0L480.3 701.6L481.0 700.3L481.7 699.0L482.4 697.8L483.2 696.7L484.0 695.6L484.8 694.6L485.7 693.6L486.6 692.8L487.5 691.9L488.4 691.2L488.3 688.1L489.4 687.5L490.5 686.9L491.7 686.4L492.8 686.0L494.0 685.6L495.8 687.8L496.9 687.7L498.1 687.5L499.3 687.5L500.4 687.5L501.6 687.6L502.8 687.8L504.0 688.1L505.3 688.4L506.5 688.8L507.7 689.2L509.0 689.8L510.2 690.4L511.4 691.1L512.7 691.8L513.9 692.6L515.2 693.5L516.4 694.5L517.6 695.5L519.9 694.2L521.2 695.4L522.5 696.6L523.7 697.9L524.9 699.3L526.2 700.7L525.8 704.2L526.9 705.7L528.0 707.2L529.1 708.8L530.1 710.4L531.1 712.1L532.1 713.8L533.1 715.6L534.1 717.4L535.0 719.2L535.9 721.1L538.9 721.6L539.8 723.6L540.6 725.7L541.4 727.7L542.2 729.8L542.9 731.9L543.6 734.0L541.8 736.9ZM532.9 740.5L533.7 743.8L534.4 747.2L535.0 750.5L535.4 753.8L535.8 757.1L535.9 760.4L536.0 763.6L535.9 766.7L535.7 769.7L535.4 772.6L534.9 775.3L534.3 778.0L533.5 780.5L532.7 782.8L531.7 784.9L530.6 786.9L529.4 788.6L528.1 790.2L526.8 791.6L525.3 792.7L523.7 793.6L522.1 794.3L520.4 794.8L518.6 795.0L516.8 795.0L515.0 794.7L513.1 794.2L511.2 793.5L509.3 792.6L507.3 791.4L505.4 790.1L503.5 788.5L501.7 786.7L499.8 784.7L498.0 782.6L496.3 780.2L494.6 777.7L493.0 775.1L491.4 772.3L490.0 769.4L488.6 766.4L487.3 763.3L486.1 760.1L485.1 756.8L484.1 753.5L483.3 750.2L482.6 746.8L482.0 743.5L481.6 740.2L481.2 736.9L481.1 733.6L481.0 730.4L481.1 727.3L481.3 724.3L481.6 721.4L482.1 718.7L482.7 716.0L483.5 713.5L484.3 711.2L485.3 709.1L486.4 707.1L487.6 705.4L488.9 703.8L490.2 702.4L491.7 701.3L493.3 700.4L494.9 699.7L496.6 699.2L498.4 699.0L500.2 699.0L502.0 699.3L503.9 699.8L505.8 700.5L507.7 701.4L509.7 702.6L511.6 703.9L513.5 705.5L515.3 707.3L517.2 709.3L519.0 711.4L520.7 713.8L522.4 716.3L524.0 718.9L525.6 721.7L527.0 724.6L528.4 727.6L529.7 730.7L530.9 733.9L531.9 737.2Z" fill="#fff" fill-rule="evenodd" stroke-width="1.88"/>
<path d="M503.2 698.3A25.2 49.2 -15 0 1 534.7 784.2" fill="none" stroke-width="1.38"/>
<path d="M495.6 749.1L496.3 752.2L497.1 755.3L497.7 758.5L498.2 761.6L498.7 764.7L499.0 767.8L499.3 770.9L499.5 773.9L499.6 776.9L499.6 779.8L499.5 782.7L499.3 785.5L499.0 788.2L498.6 790.9L498.2 793.4L497.6 795.8L497.0 798.2L496.3 800.4L495.4 802.5L494.6 804.5L493.6 806.3L492.6 808.0L491.5 809.6L490.3 811.0L489.0 812.3L487.7 813.5L486.3 814.4L484.9 815.3L483.4 815.9L481.9 816.4L480.3 816.7L478.7 816.9L477.1 816.9L475.4 816.8L473.7 816.4L472.0 815.9L470.3 815.3L468.5 814.5L466.8 813.5L465.0 812.4L463.3 811.1L461.5 809.7L459.8 808.2L458.1 806.4L456.4 804.6L454.7 802.6L453.0 800.5L451.4 798.3L449.9 796.0L448.4 793.6L446.9 791.0L445.5 788.4L444.1 785.7L442.8 782.9L441.6 780.0L440.4 777.1L439.3 774.1L438.3 771.1L437.3 768.0L436.4 764.9L435.7 761.8L434.9 758.7L434.3 755.5L433.8 752.4L433.3 749.3L433.0 746.2L432.7 743.1L432.5 740.1L432.4 737.1L432.4 734.2L432.5 731.3L432.7 728.5L433.0 725.8L433.4 723.1L433.8 720.6L434.4 718.2L435.0 715.8L435.7 713.6L436.6 711.5L437.4 709.5L438.4 707.7L439.4 706.0L440.5 704.4L441.7 703.0L443.0 701.7L444.3 700.5L445.7 699.6L447.1 698.7L448.6 698.1L450.1 697.6L451.7 697.3L453.3 697.1L454.9 697.1L456.6 697.2L458.3 697.6L460.0 698.1L461.7 698.7L463.5 699.5L465.2 700.5L467.0 701.6L468.7 702.9L470.5 704.3L472.2 705.8L473.9 707.6L475.6 709.4L477.3 711.4L479.0 713.5L480.6 715.7L482.1 718.0L483.6 720.4L485.1 723.0L486.5 725.6L487.9 728.3L489.2 731.1L490.4 734.0L491.6 736.9L492.7 739.9L493.7 742.9L494.7 746.0ZM488.5 751.6L490.2 753.7L489.6 756.2L491.2 758.4L490.5 760.8L491.9 763.1L491.1 765.3L492.3 767.7L491.4 769.8L492.5 772.2L491.4 774.1L492.4 776.6L491.2 778.3L492.0 780.7L490.7 782.2L491.3 784.6L489.9 785.9L490.3 788.2L488.9 789.2L489.1 791.5L487.6 792.2L487.6 794.4L486.1 794.8L485.9 796.9L484.4 797.1L484.0 799.0L482.5 798.8L481.9 800.6L480.4 800.2L479.6 801.7L478.2 801.0L477.2 802.3L475.8 801.4L474.7 802.5L473.3 801.3L472.1 802.2L470.8 800.7L469.4 801.3L468.2 799.6L466.7 800.0L465.6 798.1L463.9 798.3L463.0 796.2L461.2 796.0L460.4 793.8L458.6 793.4L457.9 791.0L456.1 790.4L455.5 787.9L453.6 787.0L453.2 784.4L451.3 783.2L451.1 780.6L449.2 779.3L449.1 776.6L447.3 775.0L447.4 772.3L445.6 770.6L445.8 767.9L444.1 766.0L444.5 763.4L442.8 761.3L443.4 758.8L441.8 756.6L442.5 754.2L441.1 751.9L441.9 749.7L440.7 747.3L441.6 745.2L440.5 742.8L441.6 740.9L440.6 738.4L441.8 736.7L441.0 734.3L442.3 732.8L441.7 730.4L443.1 729.1L442.7 726.8L444.1 725.8L443.9 723.5L445.4 722.8L445.4 720.6L446.9 720.2L447.1 718.1L448.6 717.9L449.0 716.0L450.5 716.2L451.1 714.4L452.6 714.8L453.4 713.3L454.8 714.0L455.8 712.7L457.2 713.6L458.3 712.5L459.7 713.7L460.9 712.8L462.2 714.3L463.6 713.7L464.8 715.4L466.3 715.0L467.4 716.9L469.1 716.7L470.0 718.8L471.8 719.0L472.6 721.2L474.4 721.6L475.1 724.0L476.9 724.6L477.5 727.1L479.4 728.0L479.8 730.6L481.7 731.8L481.9 734.4L483.8 735.7L483.9 738.4L485.7 740.0L485.6 742.7L487.4 744.4L487.2 747.1L488.9 749.0Z" fill="#fff" fill-rule="evenodd" stroke-width="1.75"/>
<line x1="439" y1="744" x2="433.9" y2="735.5" stroke-width="1.5"/>
<line x1="439.8" y1="733" x2="435" y2="722.2" stroke-width="1.5"/>
<line x1="442.3" y1="723.6" x2="438.2" y2="711.2" stroke-width="1.5"/>
<line x1="446.5" y1="716.5" x2="443.3" y2="703.4" stroke-width="1.5"/>
<line x1="452.1" y1="712.2" x2="450" y2="699.2" stroke-width="1.5"/>
<line x1="458.6" y1="711" x2="457.7" y2="698.9" stroke-width="1.5"/>
<path d="M468.7 759.1L469.2 761.2L469.8 763.4L468.3 765.9L468.7 768.0L469.1 770.1L469.4 772.2L469.8 774.3L470.0 776.4L470.3 778.5L470.5 780.5L470.6 782.6L470.7 784.6L472.8 787.0L472.8 789.1L472.8 791.1L472.7 793.1L472.6 795.1L470.5 796.3L470.4 798.1L470.2 799.9L469.9 801.7L469.6 803.4L469.3 805.1L468.9 806.7L468.5 808.3L468.0 809.8L467.6 811.3L467.0 812.7L467.9 815.5L467.3 816.8L466.6 818.1L465.9 819.4L465.1 820.5L463.2 820.1L462.4 821.1L461.6 822.0L460.8 822.9L459.9 823.7L459.0 824.4L458.1 825.1L457.2 825.7L456.2 826.2L455.3 826.7L454.3 827.1L453.8 829.3L452.7 829.6L451.5 829.8L450.4 829.9L449.2 829.9L448.0 829.8L446.8 827.7L445.6 827.5L444.5 827.3L443.3 826.9L442.2 826.5L441.0 826.0L439.8 825.4L438.7 824.8L437.5 824.1L436.3 823.3L435.1 822.5L433.3 823.5L432.1 822.5L430.9 821.4L429.6 820.3L428.4 819.1L428.2 816.1L427.1 814.8L426.0 813.5L424.9 812.1L423.8 810.6L422.7 809.1L421.7 807.6L420.6 806.0L419.6 804.3L418.6 802.6L417.7 800.9L415.2 800.4L414.2 798.5L413.3 796.6L412.4 794.6L411.5 792.7L412.4 789.7L411.6 787.7L410.9 785.7L410.2 783.7L409.5 781.6L408.8 779.6L408.2 777.5L407.6 775.4L407.1 773.3L406.6 771.2L406.1 769.1L405.7 767.0L403.3 765.1L403.0 762.9L402.6 760.7L402.4 758.6L402.1 756.4L401.9 754.3L403.8 752.4L403.7 750.4L403.6 748.4L403.6 746.4L403.6 744.4L403.6 742.5L403.7 740.6L403.9 738.7L404.0 736.9L404.2 735.1L404.5 733.3L403.0 730.6L403.4 728.9L403.8 727.2L404.3 725.6L404.8 724.0L406.8 723.7L407.4 722.3L407.9 720.9L408.5 719.6L409.2 718.3L409.8 717.1L410.5 716.0L411.2 714.9L412.0 713.9L412.8 713.0L413.6 712.1L413.5 709.6L414.5 708.8L415.4 708.1L416.4 707.5L417.4 706.9L419.1 708.3L420.1 707.9L421.2 707.6L422.2 707.4L423.3 707.2L424.3 707.1L425.4 707.1L426.5 707.1L427.6 707.3L428.8 707.5L430.0 705.7L431.2 706.1L432.4 706.5L433.6 707.0L434.9 707.6L435.7 710.2L436.9 710.9L438.1 711.7L439.3 712.5L440.4 713.4L441.6 714.4L442.8 715.4L443.9 716.5L445.1 717.7L446.2 718.9L447.3 720.2L448.4 721.5L450.7 721.3L451.8 722.8L452.9 724.3L454.0 725.9L455.1 727.6L456.2 729.3L455.8 732.4L456.7 734.1L457.7 735.9L458.6 737.7L459.5 739.6L460.4 741.5L461.2 743.4L462.0 745.3L462.8 747.3L463.5 749.3L464.2 751.3L464.9 753.4L467.5 754.8L468.1 756.9ZM462.2 761.4L463.0 764.7L463.7 768.0L464.3 771.3L464.7 774.5L465.0 777.7L465.2 780.9L465.2 784.0L465.1 787.1L464.9 790.0L464.5 792.9L464.0 795.6L463.4 798.2L462.6 800.6L461.7 802.9L460.8 805.0L459.7 806.9L458.4 808.7L457.1 810.2L455.7 811.6L454.2 812.7L452.7 813.6L451.0 814.3L449.3 814.7L447.5 815.0L445.7 815.0L443.9 814.7L442.0 814.3L440.1 813.6L438.2 812.7L436.2 811.6L434.3 810.3L432.4 808.7L430.6 807.0L428.7 805.1L426.9 802.9L425.2 800.7L423.5 798.2L421.9 795.6L420.4 792.9L418.9 790.1L417.6 787.1L416.3 784.1L415.2 781.0L414.1 777.8L413.2 774.6L412.4 771.3L411.7 768.0L411.1 764.7L410.7 761.5L410.4 758.3L410.2 755.1L410.2 752.0L410.3 748.9L410.5 746.0L410.9 743.1L411.4 740.4L412.0 737.8L412.8 735.4L413.7 733.1L414.6 731.0L415.7 729.1L417.0 727.3L418.3 725.8L419.7 724.4L421.2 723.3L422.7 722.4L424.4 721.7L426.1 721.3L427.9 721.0L429.7 721.0L431.5 721.3L433.4 721.7L435.3 722.4L437.2 723.3L439.2 724.4L441.1 725.7L443.0 727.3L444.8 729.0L446.7 730.9L448.5 733.1L450.2 735.3L451.9 737.8L453.5 740.4L455.0 743.1L456.5 745.9L457.8 748.9L459.1 751.9L460.2 755.0L461.3 758.2Z" fill="#fff" fill-rule="evenodd" stroke-width="1.88"/>
<path d="M437.8 765.2L438.5 768.3L439.3 771.4L439.9 774.6L440.4 777.7L440.9 780.8L441.2 783.9L441.5 787.0L441.7 790.0L441.8 793.0L441.8 795.9L441.7 798.8L441.5 801.6L441.2 804.3L440.8 807.0L440.4 809.5L439.8 811.9L439.2 814.3L438.5 816.5L437.6 818.6L436.8 820.6L435.8 822.4L434.8 824.1L433.7 825.7L432.5 827.1L431.2 828.4L429.9 829.6L428.5 830.5L427.1 831.4L425.6 832.0L424.1 832.5L422.5 832.8L420.9 833.0L419.3 833.0L417.6 832.9L415.9 832.5L414.2 832.0L412.5 831.4L410.7 830.6L409.0 829.6L407.2 828.5L405.5 827.2L403.7 825.8L402.0 824.3L400.3 822.5L398.6 820.7L396.9 818.7L395.2 816.6L393.6 814.4L392.1 812.1L390.6 809.7L389.1 807.1L387.7 804.5L386.3 801.8L385.0 799.0L383.8 796.1L382.6 793.2L381.5 790.2L380.5 787.2L379.5 784.1L378.6 781.0L377.9 777.9L377.1 774.8L376.5 771.6L376.0 768.5L375.5 765.4L375.2 762.3L374.9 759.2L374.7 756.2L374.6 753.2L374.6 750.3L374.7 747.4L374.9 744.6L375.2 741.9L375.6 739.2L376.0 736.7L376.6 734.3L377.2 731.9L377.9 729.7L378.8 727.6L379.6 725.6L380.6 723.8L381.6 722.1L382.7 720.5L383.9 719.1L385.2 717.8L386.5 716.6L387.9 715.7L389.3 714.8L390.8 714.2L392.3 713.7L393.9 713.4L395.5 713.2L397.1 713.2L398.8 713.3L400.5 713.7L402.2 714.2L403.9 714.8L405.7 715.6L407.4 716.6L409.2 717.7L410.9 719.0L412.7 720.4L414.4 721.9L416.1 723.7L417.8 725.5L419.5 727.5L421.2 729.6L422.8 731.8L424.3 734.1L425.8 736.5L427.3 739.1L428.7 741.7L430.1 744.4L431.4 747.2L432.6 750.1L433.8 753.0L434.9 756.0L435.9 759.0L436.9 762.1ZM430.7 767.7L432.4 769.8L431.8 772.3L433.4 774.5L432.7 776.9L434.1 779.2L433.3 781.4L434.5 783.8L433.6 785.9L434.7 788.3L433.6 790.2L434.6 792.7L433.4 794.4L434.2 796.8L432.9 798.3L433.5 800.7L432.1 802.0L432.5 804.3L431.1 805.3L431.3 807.6L429.8 808.3L429.8 810.5L428.3 810.9L428.1 813.0L426.6 813.2L426.2 815.1L424.7 814.9L424.1 816.7L422.6 816.3L421.8 817.8L420.4 817.1L419.4 818.4L418.0 817.5L416.9 818.6L415.5 817.4L414.3 818.3L413.0 816.8L411.6 817.4L410.4 815.7L408.9 816.1L407.8 814.2L406.1 814.4L405.2 812.3L403.4 812.1L402.6 809.9L400.8 809.5L400.1 807.1L398.3 806.5L397.7 804.0L395.8 803.1L395.4 800.5L393.5 799.3L393.3 796.7L391.4 795.4L391.3 792.7L389.5 791.1L389.6 788.4L387.8 786.7L388.0 784.0L386.3 782.1L386.7 779.5L385.0 777.4L385.6 774.9L384.0 772.7L384.7 770.3L383.3 768.0L384.1 765.8L382.9 763.4L383.8 761.3L382.7 758.9L383.8 757.0L382.8 754.5L384.0 752.8L383.2 750.4L384.5 748.9L383.9 746.5L385.3 745.2L384.9 742.9L386.3 741.9L386.1 739.6L387.6 738.9L387.6 736.7L389.1 736.3L389.3 734.2L390.8 734.0L391.2 732.1L392.7 732.3L393.3 730.5L394.8 730.9L395.6 729.4L397.0 730.1L398.0 728.8L399.4 729.7L400.5 728.6L401.9 729.8L403.1 728.9L404.4 730.4L405.8 729.8L407.0 731.5L408.5 731.1L409.6 733.0L411.3 732.8L412.2 734.9L414.0 735.1L414.8 737.3L416.6 737.7L417.3 740.1L419.1 740.7L419.7 743.2L421.6 744.1L422.0 746.7L423.9 747.9L424.1 750.5L426.0 751.8L426.1 754.5L427.9 756.1L427.8 758.8L429.6 760.5L429.4 763.2L431.1 765.1Z" fill="#fff" fill-rule="evenodd" stroke-width="1.75"/>
<line x1="381.2" y1="760.1" x2="376.1" y2="751.6" stroke-width="1.5"/>
<line x1="382" y1="749.1" x2="377.2" y2="738.3" stroke-width="1.5"/>
<line x1="384.5" y1="739.7" x2="380.4" y2="727.3" stroke-width="1.5"/>
<line x1="388.7" y1="732.6" x2="385.5" y2="719.5" stroke-width="1.5"/>
<line x1="394.3" y1="728.3" x2="392.2" y2="715.3" stroke-width="1.5"/>
<line x1="400.8" y1="727.1" x2="399.9" y2="715" stroke-width="1.5"/>
<path d="M410.9 775.2L411.4 777.3L412.0 779.5L410.5 782.0L410.9 784.1L411.3 786.2L411.6 788.3L412.0 790.4L412.2 792.5L412.5 794.6L412.7 796.6L412.8 798.7L412.9 800.7L415.0 803.1L415.0 805.2L415.0 807.2L414.9 809.2L414.8 811.2L412.7 812.4L412.6 814.2L412.4 816.0L412.1 817.8L411.8 819.5L411.5 821.2L411.1 822.8L410.7 824.4L410.2 825.9L409.8 827.4L409.2 828.8L410.1 831.6L409.5 832.9L408.8 834.2L408.1 835.5L407.3 836.6L405.4 836.2L404.6 837.2L403.8 838.1L403.0 839.0L402.1 839.8L401.2 840.5L400.3 841.2L399.4 841.8L398.4 842.3L397.5 842.8L396.5 843.2L396.0 845.4L394.9 845.7L393.7 845.9L392.6 846.0L391.4 846.0L390.2 845.9L389.0 843.8L387.8 843.6L386.7 843.4L385.5 843.0L384.4 842.6L383.2 842.1L382.0 841.5L380.9 840.9L379.7 840.2L378.5 839.4L377.3 838.6L375.5 839.6L374.3 838.6L373.1 837.5L371.8 836.4L370.6 835.2L370.4 832.2L369.3 830.9L368.2 829.6L367.1 828.2L366.0 826.7L364.9 825.2L363.9 823.7L362.8 822.1L361.8 820.4L360.8 818.7L359.9 817.0L357.4 816.5L356.4 814.6L355.5 812.7L354.6 810.7L353.7 808.8L354.6 805.8L353.8 803.8L353.1 801.8L352.4 799.8L351.7 797.7L351.0 795.7L350.4 793.6L349.8 791.5L349.3 789.4L348.8 787.3L348.3 785.2L347.9 783.1L345.5 781.2L345.2 779.0L344.8 776.8L344.6 774.7L344.3 772.5L344.1 770.4L346.0 768.5L345.9 766.5L345.8 764.5L345.8 762.5L345.8 760.5L345.8 758.6L345.9 756.7L346.1 754.8L346.2 753.0L346.4 751.2L346.7 749.4L345.2 746.7L345.6 745.0L346.0 743.3L346.5 741.7L347.0 740.1L349.0 739.8L349.6 738.4L350.1 737.0L350.7 735.7L351.4 734.4L352.0 733.2L352.7 732.1L353.4 731.0L354.2 730.0L355.0 729.1L355.8 728.2L355.7 725.7L356.7 724.9L357.6 724.2L358.6 723.6L359.6 723.0L361.3 724.4L362.3 724.0L363.4 723.7L364.4 723.5L365.5 723.3L366.5 723.2L367.6 723.2L368.7 723.2L369.8 723.4L371.0 723.6L372.2 721.8L373.4 722.2L374.6 722.6L375.8 723.1L377.1 723.7L377.9 726.3L379.1 727.0L380.3 727.8L381.5 728.6L382.6 729.5L383.8 730.5L385.0 731.5L386.1 732.6L387.3 733.8L388.4 735.0L389.5 736.3L390.6 737.6L392.9 737.4L394.0 738.9L395.1 740.4L396.2 742.0L397.3 743.7L398.4 745.4L398.0 748.5L398.9 750.2L399.9 752.0L400.8 753.8L401.7 755.7L402.6 757.6L403.4 759.5L404.2 761.4L405.0 763.4L405.7 765.4L406.4 767.4L407.1 769.5L409.7 770.9L410.3 773.0ZM404.4 777.5L405.2 780.8L405.9 784.1L406.5 787.4L406.9 790.6L407.2 793.8L407.4 797.0L407.4 800.1L407.3 803.2L407.1 806.1L406.7 809.0L406.2 811.7L405.6 814.3L404.8 816.7L403.9 819.0L403.0 821.1L401.9 823.0L400.6 824.8L399.3 826.3L397.9 827.7L396.4 828.8L394.9 829.7L393.2 830.4L391.5 830.8L389.7 831.1L387.9 831.1L386.1 830.8L384.2 830.4L382.3 829.7L380.4 828.8L378.4 827.7L376.5 826.4L374.6 824.8L372.8 823.1L370.9 821.2L369.1 819.0L367.4 816.8L365.7 814.3L364.1 811.7L362.6 809.0L361.1 806.2L359.8 803.2L358.5 800.2L357.4 797.1L356.3 793.9L355.4 790.7L354.6 787.4L353.9 784.1L353.3 780.8L352.9 777.6L352.6 774.4L352.4 771.2L352.4 768.1L352.5 765.0L352.7 762.1L353.1 759.2L353.6 756.5L354.2 753.9L355.0 751.5L355.9 749.2L356.8 747.1L357.9 745.2L359.2 743.4L360.5 741.9L361.9 740.5L363.4 739.4L364.9 738.5L366.6 737.8L368.3 737.4L370.1 737.1L371.9 737.1L373.7 737.4L375.6 737.8L377.5 738.5L379.4 739.4L381.4 740.5L383.3 741.8L385.2 743.4L387.0 745.1L388.9 747.0L390.7 749.2L392.4 751.4L394.1 753.9L395.7 756.5L397.2 759.2L398.7 762.0L400.0 765.0L401.3 768.0L402.4 771.1L403.5 774.3Z" fill="#fff" fill-rule="evenodd" stroke-width="1.88"/>
<path d="M380.0 781.3L380.7 784.4L381.5 787.5L382.1 790.7L382.6 793.8L383.1 796.9L383.4 800.0L383.7 803.1L383.9 806.1L384.0 809.1L384.0 812.0L383.9 814.9L383.7 817.7L383.4 820.4L383.0 823.1L382.6 825.6L382.0 828.0L381.4 830.4L380.7 832.6L379.8 834.7L379.0 836.7L378.0 838.5L377.0 840.2L375.9 841.8L374.7 843.2L373.4 844.5L372.1 845.7L370.7 846.6L369.3 847.5L367.8 848.1L366.3 848.6L364.7 848.9L363.1 849.1L361.5 849.1L359.8 849.0L358.1 848.6L356.4 848.1L354.7 847.5L352.9 846.7L351.2 845.7L349.4 844.6L347.7 843.3L345.9 841.9L344.2 840.4L342.5 838.6L340.8 836.8L339.1 834.8L337.4 832.7L335.8 830.5L334.3 828.2L332.8 825.8L331.3 823.2L329.9 820.6L328.5 817.9L327.2 815.1L326.0 812.2L324.8 809.3L323.7 806.3L322.7 803.3L321.7 800.2L320.8 797.1L320.1 794.0L319.3 790.9L318.7 787.7L318.2 784.6L317.7 781.5L317.4 778.4L317.1 775.3L316.9 772.3L316.8 769.3L316.8 766.4L316.9 763.5L317.1 760.7L317.4 758.0L317.8 755.3L318.2 752.8L318.8 750.4L319.4 748.0L320.1 745.8L321.0 743.7L321.8 741.7L322.8 739.9L323.8 738.2L324.9 736.6L326.1 735.2L327.4 733.9L328.7 732.7L330.1 731.8L331.5 730.9L333.0 730.3L334.5 729.8L336.1 729.5L337.7 729.3L339.3 729.3L341.0 729.4L342.7 729.8L344.4 730.3L346.1 730.9L347.9 731.7L349.6 732.7L351.4 733.8L353.1 735.1L354.9 736.5L356.6 738.0L358.3 739.8L360.0 741.6L361.7 743.6L363.4 745.7L365.0 747.9L366.5 750.2L368.0 752.6L369.5 755.2L370.9 757.8L372.3 760.5L373.6 763.3L374.8 766.2L376.0 769.1L377.1 772.1L378.1 775.1L379.1 778.2ZM372.9 783.8L374.6 785.9L374.0 788.4L375.6 790.6L374.9 793.0L376.3 795.3L375.5 797.5L376.7 799.9L375.8 802.0L376.9 804.4L375.8 806.3L376.8 808.8L375.6 810.5L376.4 812.9L375.1 814.4L375.7 816.8L374.3 818.1L374.7 820.4L373.3 821.4L373.5 823.7L372.0 824.4L372.0 826.6L370.5 827.0L370.3 829.1L368.8 829.3L368.4 831.2L366.9 831.0L366.3 832.8L364.8 832.4L364.0 833.9L362.6 833.2L361.6 834.5L360.2 833.6L359.1 834.7L357.7 833.5L356.5 834.4L355.2 832.9L353.8 833.5L352.6 831.8L351.1 832.2L350.0 830.3L348.3 830.5L347.4 828.4L345.6 828.2L344.8 826.0L343.0 825.6L342.3 823.2L340.5 822.6L339.9 820.1L338.0 819.2L337.6 816.6L335.7 815.4L335.5 812.8L333.6 811.5L333.5 808.8L331.7 807.2L331.8 804.5L330.0 802.8L330.2 800.1L328.5 798.2L328.9 795.6L327.2 793.5L327.8 791.0L326.2 788.8L326.9 786.4L325.5 784.1L326.3 781.9L325.1 779.5L326.0 777.4L324.9 775.0L326.0 773.1L325.0 770.6L326.2 768.9L325.4 766.5L326.7 765.0L326.1 762.6L327.5 761.3L327.1 759.0L328.5 758.0L328.3 755.7L329.8 755.0L329.8 752.8L331.3 752.4L331.5 750.3L333.0 750.1L333.4 748.2L334.9 748.4L335.5 746.6L337.0 747.0L337.8 745.5L339.2 746.2L340.2 744.9L341.6 745.8L342.7 744.7L344.1 745.9L345.3 745.0L346.6 746.5L348.0 745.9L349.2 747.6L350.7 747.2L351.8 749.1L353.5 748.9L354.4 751.0L356.2 751.2L357.0 753.4L358.8 753.8L359.5 756.2L361.3 756.8L361.9 759.3L363.8 760.2L364.2 762.8L366.1 764.0L366.3 766.6L368.2 767.9L368.3 770.6L370.1 772.2L370.0 774.9L371.8 776.6L371.6 779.3L373.3 781.2Z" fill="#fff" fill-rule="evenodd" stroke-width="1.75"/>
<line x1="323.4" y1="776.2" x2="318.3" y2="767.7" stroke-width="1.5"/>
<line x1="324.2" y1="765.2" x2="319.4" y2="754.4" stroke-width="1.5"/>
<line x1="326.7" y1="755.8" x2="322.6" y2="743.4" stroke-width="1.5"/>
<line x1="330.9" y1="748.7" x2="327.7" y2="735.6" stroke-width="1.5"/>
<line x1="336.5" y1="744.4" x2="334.4" y2="731.4" stroke-width="1.5"/>
<line x1="343" y1="743.2" x2="342.1" y2="731.1" stroke-width="1.5"/>
<path d="M353.1 791.3L353.6 793.4L354.2 795.6L352.7 798.1L353.1 800.2L353.5 802.3L353.8 804.4L354.2 806.5L354.4 808.6L354.7 810.7L354.9 812.7L355.0 814.8L355.1 816.8L357.2 819.2L357.2 821.3L357.2 823.3L357.1 825.3L357.0 827.3L354.9 828.5L354.8 830.3L354.6 832.1L354.3 833.9L354.0 835.6L353.7 837.3L353.3 838.9L352.9 840.5L352.4 842.0L352.0 843.5L351.4 844.9L352.3 847.7L351.7 849.0L351.0 850.3L350.3 851.6L349.5 852.7L347.6 852.3L346.8 853.3L346.0 854.2L345.2 855.1L344.3 855.9L343.4 856.6L342.5 857.3L341.6 857.9L340.6 858.4L339.7 858.9L338.7 859.3L338.2 861.5L337.1 861.8L335.9 862.0L334.8 862.1L333.6 862.1L332.4 862.0L331.2 859.9L330.0 859.7L328.9 859.5L327.7 859.1L326.6 858.7L325.4 858.2L324.2 857.6L323.1 857.0L321.9 856.3L320.7 855.5L319.5 854.7L317.7 855.7L316.5 854.7L315.3 853.6L314.0 852.5L312.8 851.3L312.6 848.3L311.5 847.0L310.4 845.7L309.3 844.3L308.2 842.8L307.1 841.3L306.1 839.8L305.0 838.2L304.0 836.5L303.0 834.8L302.1 833.1L299.6 832.6L298.6 830.7L297.7 828.8L296.8 826.8L295.9 824.9L296.8 821.9L296.0 819.9L295.3 817.9L294.6 815.9L293.9 813.8L293.2 811.8L292.6 809.7L292.0 807.6L291.5 805.5L291.0 803.4L290.5 801.3L290.1 799.2L287.7 797.3L287.4 795.1L287.0 792.9L286.8 790.8L286.5 788.6L286.3 786.5L288.2 784.6L288.1 782.6L288.0 780.6L288.0 778.6L288.0 776.6L288.0 774.7L288.1 772.8L288.3 770.9L288.4 769.1L288.6 767.3L288.9 765.5L287.4 762.8L287.8 761.1L288.2 759.4L288.7 757.8L289.2 756.2L291.2 755.9L291.8 754.5L292.3 753.1L292.9 751.8L293.6 750.5L294.2 749.3L294.9 748.2L295.6 747.1L296.4 746.1L297.2 745.2L298.0 744.3L297.9 741.8L298.9 741.0L299.8 740.3L300.8 739.7L301.8 739.1L303.5 740.5L304.5 740.1L305.6 739.8L306.6 739.6L307.7 739.4L308.7 739.3L309.8 739.3L310.9 739.3L312.0 739.5L313.2 739.7L314.4 737.9L315.6 738.3L316.8 738.7L318.0 739.2L319.3 739.8L320.1 742.4L321.3 743.1L322.5 743.9L323.7 744.7L324.8 745.6L326.0 746.6L327.2 747.6L328.3 748.7L329.5 749.9L330.6 751.1L331.7 752.4L332.8 753.7L335.1 753.5L336.2 755.0L337.3 756.5L338.4 758.1L339.5 759.8L340.6 761.5L340.2 764.6L341.1 766.3L342.1 768.1L343.0 769.9L343.9 771.8L344.8 773.7L345.6 775.6L346.4 777.5L347.2 779.5L347.9 781.5L348.6 783.5L349.3 785.6L351.9 787.0L352.5 789.1ZM346.6 793.6L347.4 796.9L348.1 800.2L348.7 803.5L349.1 806.7L349.4 809.9L349.6 813.1L349.6 816.2L349.5 819.3L349.3 822.2L348.9 825.1L348.4 827.8L347.8 830.4L347.0 832.8L346.1 835.1L345.2 837.2L344.1 839.1L342.8 840.9L341.5 842.4L340.1 843.8L338.6 844.9L337.1 845.8L335.4 846.5L333.7 846.9L331.9 847.2L330.1 847.2L328.3 846.9L326.4 846.5L324.5 845.8L322.6 844.9L320.6 843.8L318.7 842.5L316.8 840.9L315.0 839.2L313.1 837.3L311.3 835.1L309.6 832.9L307.9 830.4L306.3 827.8L304.8 825.1L303.3 822.3L302.0 819.3L300.7 816.3L299.6 813.2L298.5 810.0L297.6 806.8L296.8 803.5L296.1 800.2L295.5 796.9L295.1 793.7L294.8 790.5L294.6 787.3L294.6 784.2L294.7 781.1L294.9 778.2L295.3 775.3L295.8 772.6L296.4 770.0L297.2 767.6L298.1 765.3L299.0 763.2L300.1 761.3L301.4 759.5L302.7 758.0L304.1 756.6L305.6 755.5L307.1 754.6L308.8 753.9L310.5 753.5L312.3 753.2L314.1 753.2L315.9 753.5L317.8 753.9L319.7 754.6L321.6 755.5L323.6 756.6L325.5 757.9L327.4 759.5L329.2 761.2L331.1 763.1L332.9 765.3L334.6 767.5L336.3 770.0L337.9 772.6L339.4 775.3L340.9 778.1L342.2 781.1L343.5 784.1L344.6 787.2L345.7 790.4Z" fill="#fff" fill-rule="evenodd" stroke-width="1.88"/>
<path d="M322.2 797.4L322.9 800.5L323.7 803.6L324.3 806.8L324.8 809.9L325.3 813.0L325.6 816.1L325.9 819.2L326.1 822.2L326.2 825.2L326.2 828.1L326.1 831.0L325.9 833.8L325.6 836.5L325.2 839.2L324.8 841.7L324.2 844.1L323.6 846.5L322.9 848.7L322.0 850.8L321.2 852.8L320.2 854.6L319.2 856.3L318.1 857.9L316.9 859.3L315.6 860.6L314.3 861.8L312.9 862.7L311.5 863.6L310.0 864.2L308.5 864.7L306.9 865.0L305.3 865.2L303.7 865.2L302.0 865.1L300.3 864.7L298.6 864.2L296.9 863.6L295.1 862.8L293.4 861.8L291.6 860.7L289.9 859.4L288.1 858.0L286.4 856.5L284.7 854.7L283.0 852.9L281.3 850.9L279.6 848.8L278.0 846.6L276.5 844.3L275.0 841.9L273.5 839.3L272.1 836.7L270.7 834.0L269.4 831.2L268.2 828.3L267.0 825.4L265.9 822.4L264.9 819.4L263.9 816.3L263.0 813.2L262.3 810.1L261.5 807.0L260.9 803.8L260.4 800.7L259.9 797.6L259.6 794.5L259.3 791.4L259.1 788.4L259.0 785.4L259.0 782.5L259.1 779.6L259.3 776.8L259.6 774.1L260.0 771.4L260.4 768.9L261.0 766.5L261.6 764.1L262.3 761.9L263.2 759.8L264.0 757.8L265.0 756.0L266.0 754.3L267.1 752.7L268.3 751.3L269.6 750.0L270.9 748.8L272.3 747.9L273.7 747.0L275.2 746.4L276.7 745.9L278.3 745.6L279.9 745.4L281.5 745.4L283.2 745.5L284.9 745.9L286.6 746.4L288.3 747.0L290.1 747.8L291.8 748.8L293.6 749.9L295.3 751.2L297.1 752.6L298.8 754.1L300.5 755.9L302.2 757.7L303.9 759.7L305.6 761.8L307.2 764.0L308.7 766.3L310.2 768.7L311.7 771.3L313.1 773.9L314.5 776.6L315.8 779.4L317.0 782.3L318.2 785.2L319.3 788.2L320.3 791.2L321.3 794.3ZM315.1 799.9L316.8 802.0L316.2 804.5L317.8 806.7L317.1 809.1L318.5 811.4L317.7 813.6L318.9 816.0L318.0 818.1L319.1 820.5L318.0 822.4L319.0 824.9L317.8 826.6L318.6 829.0L317.3 830.5L317.9 832.9L316.5 834.2L316.9 836.5L315.5 837.5L315.7 839.8L314.2 840.5L314.2 842.7L312.7 843.1L312.5 845.2L311.0 845.4L310.6 847.3L309.1 847.1L308.5 848.9L307.0 848.5L306.2 850.0L304.8 849.3L303.8 850.6L302.4 849.7L301.3 850.8L299.9 849.6L298.7 850.5L297.4 849.0L296.0 849.6L294.8 847.9L293.3 848.3L292.2 846.4L290.5 846.6L289.6 844.5L287.8 844.3L287.0 842.1L285.2 841.7L284.5 839.3L282.7 838.7L282.1 836.2L280.2 835.3L279.8 832.7L277.9 831.5L277.7 828.9L275.8 827.6L275.7 824.9L273.9 823.3L274.0 820.6L272.2 818.9L272.4 816.2L270.7 814.3L271.1 811.7L269.4 809.6L270.0 807.1L268.4 804.9L269.1 802.5L267.7 800.2L268.5 798.0L267.3 795.6L268.2 793.5L267.1 791.1L268.2 789.2L267.2 786.7L268.4 785.0L267.6 782.6L268.9 781.1L268.3 778.7L269.7 777.4L269.3 775.1L270.7 774.1L270.5 771.8L272.0 771.1L272.0 768.9L273.5 768.5L273.7 766.4L275.2 766.2L275.6 764.3L277.1 764.5L277.7 762.7L279.2 763.1L280.0 761.6L281.4 762.3L282.4 761.0L283.8 761.9L284.9 760.8L286.3 762.0L287.5 761.1L288.8 762.6L290.2 762.0L291.4 763.7L292.9 763.3L294.0 765.2L295.7 765.0L296.6 767.1L298.4 767.3L299.2 769.5L301.0 769.9L301.7 772.3L303.5 772.9L304.1 775.4L306.0 776.3L306.4 778.9L308.3 780.1L308.5 782.7L310.4 784.0L310.5 786.7L312.3 788.3L312.2 791.0L314.0 792.7L313.8 795.4L315.5 797.3Z" fill="#fff" fill-rule="evenodd" stroke-width="1.75"/>
<line x1="265.6" y1="792.3" x2="260.5" y2="783.8" stroke-width="1.5"/>
<line x1="266.4" y1="781.3" x2="261.6" y2="770.5" stroke-width="1.5"/>
<line x1="268.9" y1="771.9" x2="264.8" y2="759.5" stroke-width="1.5"/>
<line x1="273.1" y1="764.8" x2="269.9" y2="751.7" stroke-width="1.5"/>
<line x1="278.7" y1="760.5" x2="276.6" y2="747.5" stroke-width="1.5"/>
<line x1="285.2" y1="759.3" x2="284.3" y2="747.2" stroke-width="1.5"/>
<path d="M295.3 807.4L295.8 809.5L296.4 811.7L294.9 814.2L295.3 816.3L295.7 818.4L296.0 820.5L296.4 822.6L296.6 824.7L296.9 826.8L297.1 828.8L297.2 830.9L297.3 832.9L299.4 835.3L299.4 837.4L299.4 839.4L299.3 841.4L299.2 843.4L297.1 844.6L297.0 846.4L296.8 848.2L296.5 850.0L296.2 851.7L295.9 853.4L295.5 855.0L295.1 856.6L294.6 858.1L294.2 859.6L293.6 861.0L294.5 863.8L293.9 865.1L293.2 866.4L292.5 867.7L291.7 868.8L289.8 868.4L289.0 869.4L288.2 870.3L287.4 871.2L286.5 872.0L285.6 872.7L284.7 873.4L283.8 874.0L282.8 874.5L281.9 875.0L280.9 875.4L280.4 877.6L279.3 877.9L278.1 878.1L277.0 878.2L275.8 878.2L274.6 878.1L273.4 876.0L272.2 875.8L271.1 875.6L269.9 875.2L268.8 874.8L267.6 874.3L266.4 873.7L265.3 873.1L264.1 872.4L262.9 871.6L261.7 870.8L259.9 871.8L258.7 870.8L257.5 869.7L256.2 868.6L255.0 867.4L254.8 864.4L253.7 863.1L252.6 861.8L251.5 860.4L250.4 858.9L249.3 857.4L248.3 855.9L247.2 854.3L246.2 852.6L245.2 850.9L244.3 849.2L241.8 848.7L240.8 846.8L239.9 844.9L239.0 842.9L238.1 841.0L239.0 838.0L238.2 836.0L237.5 834.0L236.8 832.0L236.1 829.9L235.4 827.9L234.8 825.8L234.2 823.7L233.7 821.6L233.2 819.5L232.7 817.4L232.3 815.3L229.9 813.4L229.6 811.2L229.2 809.0L229.0 806.9L228.7 804.7L228.5 802.6L230.4 800.7L230.3 798.7L230.2 796.7L230.2 794.7L230.2 792.7L230.2 790.8L230.3 788.9L230.5 787.0L230.6 785.2L230.8 783.4L231.1 781.6L229.6 778.9L230.0 777.2L230.4 775.5L230.9 773.9L231.4 772.3L233.4 772.0L234.0 770.6L234.5 769.2L235.1 767.9L235.8 766.6L236.4 765.4L237.1 764.3L237.8 763.2L238.6 762.2L239.4 761.3L240.2 760.4L240.1 757.9L241.1 757.1L242.0 756.4L243.0 755.8L244.0 755.2L245.7 756.6L246.7 756.2L247.8 755.9L248.8 755.7L249.9 755.5L250.9 755.4L252.0 755.4L253.1 755.4L254.2 755.6L255.4 755.8L256.6 754.0L257.8 754.4L259.0 754.8L260.2 755.3L261.5 755.9L262.3 758.5L263.5 759.2L264.7 760.0L265.9 760.8L267.0 761.7L268.2 762.7L269.4 763.7L270.5 764.8L271.7 766.0L272.8 767.2L273.9 768.5L275.0 769.8L277.3 769.6L278.4 771.1L279.5 772.6L280.6 774.2L281.7 775.9L282.8 777.6L282.4 780.7L283.3 782.4L284.3 784.2L285.2 786.0L286.1 787.9L287.0 789.8L287.8 791.7L288.6 793.6L289.4 795.6L290.1 797.6L290.8 799.6L291.5 801.7L294.1 803.1L294.7 805.2ZM288.8 809.7L289.6 813.0L290.3 816.3L290.9 819.6L291.3 822.8L291.6 826.0L291.8 829.2L291.8 832.3L291.7 835.4L291.5 838.3L291.1 841.2L290.6 843.9L290.0 846.5L289.2 848.9L288.3 851.2L287.4 853.3L286.3 855.2L285.0 857.0L283.7 858.5L282.3 859.9L280.8 861.0L279.3 861.9L277.6 862.6L275.9 863.0L274.1 863.3L272.3 863.3L270.5 863.0L268.6 862.6L266.7 861.9L264.8 861.0L262.8 859.9L260.9 858.6L259.0 857.0L257.2 855.3L255.3 853.4L253.5 851.2L251.8 849.0L250.1 846.5L248.5 843.9L247.0 841.2L245.5 838.4L244.2 835.4L242.9 832.4L241.8 829.3L240.7 826.1L239.8 822.9L239.0 819.6L238.3 816.3L237.7 813.0L237.3 809.8L237.0 806.6L236.8 803.4L236.8 800.3L236.9 797.2L237.1 794.3L237.5 791.4L238.0 788.7L238.6 786.1L239.4 783.7L240.3 781.4L241.2 779.3L242.3 777.4L243.6 775.6L244.9 774.1L246.3 772.7L247.8 771.6L249.3 770.7L251.0 770.0L252.7 769.6L254.5 769.3L256.3 769.3L258.1 769.6L260.0 770.0L261.9 770.7L263.8 771.6L265.8 772.7L267.7 774.0L269.6 775.6L271.4 777.3L273.3 779.2L275.1 781.4L276.8 783.6L278.5 786.1L280.1 788.7L281.6 791.4L283.1 794.2L284.4 797.2L285.7 800.2L286.8 803.3L287.9 806.5Z" fill="#fff" fill-rule="evenodd" stroke-width="1.88"/>
<path d="M264.4 813.5L265.1 816.6L265.9 819.7L266.5 822.9L267.0 826.0L267.5 829.1L267.8 832.2L268.1 835.3L268.3 838.3L268.4 841.3L268.4 844.2L268.3 847.1L268.1 849.9L267.8 852.6L267.4 855.3L267.0 857.8L266.4 860.2L265.8 862.6L265.1 864.8L264.2 866.9L263.4 868.9L262.4 870.7L261.4 872.4L260.3 874.0L259.1 875.4L257.8 876.7L256.5 877.9L255.1 878.8L253.7 879.7L252.2 880.3L250.7 880.8L249.1 881.1L247.5 881.3L245.9 881.3L244.2 881.2L242.5 880.8L240.8 880.3L239.1 879.7L237.3 878.9L235.6 877.9L233.8 876.8L232.1 875.5L230.3 874.1L228.6 872.6L226.9 870.8L225.2 869.0L223.5 867.0L221.8 864.9L220.2 862.7L218.7 860.4L217.2 858.0L215.7 855.4L214.3 852.8L212.9 850.1L211.6 847.3L210.4 844.4L209.2 841.5L208.1 838.5L207.1 835.5L206.1 832.4L205.2 829.3L204.5 826.2L203.7 823.1L203.1 819.9L202.6 816.8L202.1 813.7L201.8 810.6L201.5 807.5L201.3 804.5L201.2 801.5L201.2 798.6L201.3 795.7L201.5 792.9L201.8 790.2L202.2 787.5L202.6 785.0L203.2 782.6L203.8 780.2L204.5 778.0L205.4 775.9L206.2 773.9L207.2 772.1L208.2 770.4L209.3 768.8L210.5 767.4L211.8 766.1L213.1 764.9L214.5 764.0L215.9 763.1L217.4 762.5L218.9 762.0L220.5 761.7L222.1 761.5L223.7 761.5L225.4 761.6L227.1 762.0L228.8 762.5L230.5 763.1L232.3 763.9L234.0 764.9L235.8 766.0L237.5 767.3L239.3 768.7L241.0 770.2L242.7 772.0L244.4 773.8L246.1 775.8L247.8 777.9L249.4 780.1L250.9 782.4L252.4 784.8L253.9 787.4L255.3 790.0L256.7 792.7L258.0 795.5L259.2 798.4L260.4 801.3L261.5 804.3L262.5 807.3L263.5 810.4ZM257.3 816.0L259.0 818.1L258.4 820.6L260.0 822.8L259.3 825.2L260.7 827.5L259.9 829.7L261.1 832.1L260.2 834.2L261.3 836.6L260.2 838.5L261.2 841.0L260.0 842.7L260.8 845.1L259.5 846.6L260.1 849.0L258.7 850.3L259.1 852.6L257.7 853.6L257.9 855.9L256.4 856.6L256.4 858.8L254.9 859.2L254.7 861.3L253.2 861.5L252.8 863.4L251.3 863.2L250.7 865.0L249.2 864.6L248.4 866.1L247.0 865.4L246.0 866.7L244.6 865.8L243.5 866.9L242.1 865.7L240.9 866.6L239.6 865.1L238.2 865.7L237.0 864.0L235.5 864.4L234.4 862.5L232.7 862.7L231.8 860.6L230.0 860.4L229.2 858.2L227.4 857.8L226.7 855.4L224.9 854.8L224.3 852.3L222.4 851.4L222.0 848.8L220.1 847.6L219.9 845.0L218.0 843.7L217.9 841.0L216.1 839.4L216.2 836.7L214.4 835.0L214.6 832.3L212.9 830.4L213.3 827.8L211.6 825.7L212.2 823.2L210.6 821.0L211.3 818.6L209.9 816.3L210.7 814.1L209.5 811.7L210.4 809.6L209.3 807.2L210.4 805.3L209.4 802.8L210.6 801.1L209.8 798.7L211.1 797.2L210.5 794.8L211.9 793.5L211.5 791.2L212.9 790.2L212.7 787.9L214.2 787.2L214.2 785.0L215.7 784.6L215.9 782.5L217.4 782.3L217.8 780.4L219.3 780.6L219.9 778.8L221.4 779.2L222.2 777.7L223.6 778.4L224.6 777.1L226.0 778.0L227.1 776.9L228.5 778.1L229.7 777.2L231.0 778.7L232.4 778.1L233.6 779.8L235.1 779.4L236.2 781.3L237.9 781.1L238.8 783.2L240.6 783.4L241.4 785.6L243.2 786.0L243.9 788.4L245.7 789.0L246.3 791.5L248.2 792.4L248.6 795.0L250.5 796.2L250.7 798.8L252.6 800.1L252.7 802.8L254.5 804.4L254.4 807.1L256.2 808.8L256.0 811.5L257.7 813.4Z" fill="#fff" fill-rule="evenodd" stroke-width="1.75"/>
<line x1="207.8" y1="808.4" x2="202.7" y2="799.9" stroke-width="1.5"/>
<line x1="208.6" y1="797.4" x2="203.8" y2="786.6" stroke-width="1.5"/>
<line x1="211.1" y1="788" x2="207" y2="775.6" stroke-width="1.5"/>
<line x1="215.3" y1="780.9" x2="212.1" y2="767.8" stroke-width="1.5"/>
<line x1="220.9" y1="776.6" x2="218.8" y2="763.6" stroke-width="1.5"/>
<line x1="227.4" y1="775.4" x2="226.5" y2="763.3" stroke-width="1.5"/>
<path d="M237.5 823.5L238.0 825.6L238.6 827.8L237.1 830.3L237.5 832.4L237.9 834.5L238.2 836.6L238.6 838.7L238.8 840.8L239.1 842.9L239.3 844.9L239.4 847.0L239.5 849.0L241.6 851.4L241.6 853.5L241.6 855.5L241.5 857.5L241.4 859.5L239.3 860.7L239.2 862.5L239.0 864.3L238.7 866.1L238.4 867.8L238.1 869.5L237.7 871.1L237.3 872.7L236.8 874.2L236.4 875.7L235.8 877.1L236.7 879.9L236.1 881.2L235.4 882.5L234.7 883.8L233.9 884.9L232.0 884.5L231.2 885.5L230.4 886.4L229.6 887.3L228.7 888.1L227.8 888.8L226.9 889.5L226.0 890.1L225.0 890.6L224.1 891.1L223.1 891.5L222.6 893.7L221.5 894.0L220.3 894.2L219.2 894.3L218.0 894.3L216.8 894.2L215.6 892.1L214.4 891.9L213.3 891.7L212.1 891.3L211.0 890.9L209.8 890.4L208.6 889.8L207.5 889.2L206.3 888.5L205.1 887.7L203.9 886.9L202.1 887.9L200.9 886.9L199.7 885.8L198.4 884.7L197.2 883.5L197.0 880.5L195.9 879.2L194.8 877.9L193.7 876.5L192.6 875.0L191.5 873.5L190.5 872.0L189.4 870.4L188.4 868.7L187.4 867.0L186.5 865.3L184.0 864.8L183.0 862.9L182.1 861.0L181.2 859.0L180.3 857.1L181.2 854.1L180.4 852.1L179.7 850.1L179.0 848.1L178.3 846.0L177.6 844.0L177.0 841.9L176.4 839.8L175.9 837.7L175.4 835.6L174.9 833.5L174.5 831.4L172.1 829.5L171.8 827.3L171.4 825.1L171.2 823.0L170.9 820.8L170.7 818.7L172.6 816.8L172.5 814.8L172.4 812.8L172.4 810.8L172.4 808.8L172.4 806.9L172.5 805.0L172.7 803.1L172.8 801.3L173.0 799.5L173.3 797.7L171.8 795.0L172.2 793.3L172.6 791.6L173.1 790.0L173.6 788.4L175.6 788.1L176.2 786.7L176.7 785.3L177.3 784.0L178.0 782.7L178.6 781.5L179.3 780.4L180.0 779.3L180.8 778.3L181.6 777.4L182.4 776.5L182.3 774.0L183.3 773.2L184.2 772.5L185.2 771.9L186.2 771.3L187.9 772.7L188.9 772.3L190.0 772.0L191.0 771.8L192.1 771.6L193.1 771.5L194.2 771.5L195.3 771.5L196.4 771.7L197.6 771.9L198.8 770.1L200.0 770.5L201.2 770.9L202.4 771.4L203.7 772.0L204.5 774.6L205.7 775.3L206.9 776.1L208.1 776.9L209.2 777.8L210.4 778.8L211.6 779.8L212.7 780.9L213.9 782.1L215.0 783.3L216.1 784.6L217.2 785.9L219.5 785.7L220.6 787.2L221.7 788.7L222.8 790.3L223.9 792.0L225.0 793.7L224.6 796.8L225.5 798.5L226.5 800.3L227.4 802.1L228.3 804.0L229.2 805.9L230.0 807.8L230.8 809.7L231.6 811.7L232.3 813.7L233.0 815.7L233.7 817.8L236.3 819.2L236.9 821.3ZM231.0 825.8L231.8 829.1L232.5 832.4L233.1 835.7L233.5 838.9L233.8 842.1L234.0 845.3L234.0 848.4L233.9 851.5L233.7 854.4L233.3 857.3L232.8 860.0L232.2 862.6L231.4 865.0L230.5 867.3L229.6 869.4L228.5 871.3L227.2 873.1L225.9 874.6L224.5 876.0L223.0 877.1L221.5 878.0L219.8 878.7L218.1 879.1L216.3 879.4L214.5 879.4L212.7 879.1L210.8 878.7L208.9 878.0L207.0 877.1L205.0 876.0L203.1 874.7L201.2 873.1L199.4 871.4L197.5 869.5L195.7 867.3L194.0 865.1L192.3 862.6L190.7 860.0L189.2 857.3L187.7 854.5L186.4 851.5L185.1 848.5L184.0 845.4L182.9 842.2L182.0 839.0L181.2 835.7L180.5 832.4L179.9 829.1L179.5 825.9L179.2 822.7L179.0 819.5L179.0 816.4L179.1 813.3L179.3 810.4L179.7 807.5L180.2 804.8L180.8 802.2L181.6 799.8L182.5 797.5L183.4 795.4L184.5 793.5L185.8 791.7L187.1 790.2L188.5 788.8L190.0 787.7L191.5 786.8L193.2 786.1L194.9 785.7L196.7 785.4L198.5 785.4L200.3 785.7L202.2 786.1L204.1 786.8L206.0 787.7L208.0 788.8L209.9 790.1L211.8 791.7L213.6 793.4L215.5 795.3L217.3 797.5L219.0 799.7L220.7 802.2L222.3 804.8L223.8 807.5L225.3 810.3L226.6 813.3L227.9 816.3L229.0 819.4L230.1 822.6Z" fill="#fff" fill-rule="evenodd" stroke-width="1.88"/>
<path d="M206.6 829.6L207.3 832.7L208.1 835.8L208.7 839.0L209.2 842.1L209.7 845.2L210.0 848.3L210.3 851.4L210.5 854.4L210.6 857.4L210.6 860.3L210.5 863.2L210.3 866.0L210.0 868.7L209.6 871.4L209.2 873.9L208.6 876.3L208.0 878.7L207.3 880.9L206.4 883.0L205.6 885.0L204.6 886.8L203.6 888.5L202.5 890.1L201.3 891.5L200.0 892.8L198.7 894.0L197.3 894.9L195.9 895.8L194.4 896.4L192.9 896.9L191.3 897.2L189.7 897.4L188.1 897.4L186.4 897.3L184.7 896.9L183.0 896.4L181.3 895.8L179.5 895.0L177.8 894.0L176.0 892.9L174.3 891.6L172.5 890.2L170.8 888.7L169.1 886.9L167.4 885.1L165.7 883.1L164.0 881.0L162.4 878.8L160.9 876.5L159.4 874.1L157.9 871.5L156.5 868.9L155.1 866.2L153.8 863.4L152.6 860.5L151.4 857.6L150.3 854.6L149.3 851.6L148.3 848.5L147.4 845.4L146.7 842.3L145.9 839.2L145.3 836.0L144.8 832.9L144.3 829.8L144.0 826.7L143.7 823.6L143.5 820.6L143.4 817.6L143.4 814.7L143.5 811.8L143.7 809.0L144.0 806.3L144.4 803.6L144.8 801.1L145.4 798.7L146.0 796.3L146.7 794.1L147.6 792.0L148.4 790.0L149.4 788.2L150.4 786.5L151.5 784.9L152.7 783.5L154.0 782.2L155.3 781.0L156.7 780.1L158.1 779.2L159.6 778.6L161.1 778.1L162.7 777.8L164.3 777.6L165.9 777.6L167.6 777.7L169.3 778.1L171.0 778.6L172.7 779.2L174.5 780.0L176.2 781.0L178.0 782.1L179.7 783.4L181.5 784.8L183.2 786.3L184.9 788.1L186.6 789.9L188.3 791.9L190.0 794.0L191.6 796.2L193.1 798.5L194.6 800.9L196.1 803.5L197.5 806.1L198.9 808.8L200.2 811.6L201.4 814.5L202.6 817.4L203.7 820.4L204.7 823.4L205.7 826.5ZM199.5 832.1L201.2 834.2L200.6 836.7L202.2 838.9L201.5 841.3L202.9 843.6L202.1 845.8L203.3 848.2L202.4 850.3L203.5 852.7L202.4 854.6L203.4 857.1L202.2 858.8L203.0 861.2L201.7 862.7L202.3 865.1L200.9 866.4L201.3 868.7L199.9 869.7L200.1 872.0L198.6 872.7L198.6 874.9L197.1 875.3L196.9 877.4L195.4 877.6L195.0 879.5L193.5 879.3L192.9 881.1L191.4 880.7L190.6 882.2L189.2 881.5L188.2 882.8L186.8 881.9L185.7 883.0L184.3 881.8L183.1 882.7L181.8 881.2L180.4 881.8L179.2 880.1L177.7 880.5L176.6 878.6L174.9 878.8L174.0 876.7L172.2 876.5L171.4 874.3L169.6 873.9L168.9 871.5L167.1 870.9L166.5 868.4L164.6 867.5L164.2 864.9L162.3 863.7L162.1 861.1L160.2 859.8L160.1 857.1L158.3 855.5L158.4 852.8L156.6 851.1L156.8 848.4L155.1 846.5L155.5 843.9L153.8 841.8L154.4 839.3L152.8 837.1L153.5 834.7L152.1 832.4L152.9 830.2L151.7 827.8L152.6 825.7L151.5 823.3L152.6 821.4L151.6 818.9L152.8 817.2L152.0 814.8L153.3 813.3L152.7 810.9L154.1 809.6L153.7 807.3L155.1 806.3L154.9 804.0L156.4 803.3L156.4 801.1L157.9 800.7L158.1 798.6L159.6 798.4L160.0 796.5L161.5 796.7L162.1 794.9L163.6 795.3L164.4 793.8L165.8 794.5L166.8 793.2L168.2 794.1L169.3 793.0L170.7 794.2L171.9 793.3L173.2 794.8L174.6 794.2L175.8 795.9L177.3 795.5L178.4 797.4L180.1 797.2L181.0 799.3L182.8 799.5L183.6 801.7L185.4 802.1L186.1 804.5L187.9 805.1L188.5 807.6L190.4 808.5L190.8 811.1L192.7 812.3L192.9 814.9L194.8 816.2L194.9 818.9L196.7 820.5L196.6 823.2L198.4 824.9L198.2 827.6L199.9 829.5Z" fill="#fff" fill-rule="evenodd" stroke-width="1.75"/>
<line x1="150" y1="824.5" x2="144.9" y2="816" stroke-width="1.5"/>
<line x1="150.8" y1="813.5" x2="146" y2="802.7" stroke-width="1.5"/>
<line x1="153.3" y1="804.1" x2="149.2" y2="791.7" stroke-width="1.5"/>
<line x1="157.5" y1="797" x2="154.3" y2="783.9" stroke-width="1.5"/>
<line x1="163.1" y1="792.7" x2="161" y2="779.7" stroke-width="1.5"/>
<line x1="169.6" y1="791.5" x2="168.7" y2="779.4" stroke-width="1.5"/>
<path d="M179.7 839.6L180.2 841.7L180.8 843.9L179.3 846.4L179.7 848.5L180.1 850.6L180.4 852.7L180.8 854.8L181.0 856.9L181.3 859.0L181.5 861.0L181.6 863.1L181.7 865.1L183.8 867.5L183.8 869.6L183.8 871.6L183.7 873.6L183.6 875.6L181.5 876.8L181.4 878.6L181.2 880.4L180.9 882.2L180.6 883.9L180.3 885.6L179.9 887.2L179.5 888.8L179.0 890.3L178.6 891.8L178.0 893.2L178.9 896.0L178.3 897.3L177.6 898.6L176.9 899.9L176.1 901.0L174.2 900.6L173.4 901.6L172.6 902.5L171.8 903.4L170.9 904.2L170.0 904.9L169.1 905.6L168.2 906.2L167.2 906.7L166.3 907.2L165.3 907.6L164.8 909.8L163.7 910.1L162.5 910.3L161.4 910.4L160.2 910.4L159.0 910.3L157.8 908.2L156.6 908.0L155.5 907.8L154.3 907.4L153.2 907.0L152.0 906.5L150.8 905.9L149.7 905.3L148.5 904.6L147.3 903.8L146.1 903.0L144.3 904.0L143.1 903.0L141.9 901.9L140.6 900.8L139.4 899.6L139.2 896.6L138.1 895.3L137.0 894.0L135.9 892.6L134.8 891.1L133.7 889.6L132.7 888.1L131.6 886.5L130.6 884.8L129.6 883.1L128.7 881.4L126.2 880.9L125.2 879.0L124.3 877.1L123.4 875.1L122.5 873.2L123.4 870.2L122.6 868.2L121.9 866.2L121.2 864.2L120.5 862.1L119.8 860.1L119.2 858.0L118.6 855.9L118.1 853.8L117.6 851.7L117.1 849.6L116.7 847.5L114.3 845.6L114.0 843.4L113.6 841.2L113.4 839.1L113.1 836.9L112.9 834.8L114.8 832.9L114.7 830.9L114.6 828.9L114.6 826.9L114.6 824.9L114.6 823.0L114.7 821.1L114.9 819.2L115.0 817.4L115.2 815.6L115.5 813.8L114.0 811.1L114.4 809.4L114.8 807.7L115.3 806.1L115.8 804.5L117.8 804.2L118.4 802.8L118.9 801.4L119.5 800.1L120.2 798.8L120.8 797.6L121.5 796.5L122.2 795.4L123.0 794.4L123.8 793.5L124.6 792.6L124.5 790.1L125.5 789.3L126.4 788.6L127.4 788.0L128.4 787.4L130.1 788.8L131.1 788.4L132.2 788.1L133.2 787.9L134.3 787.7L135.3 787.6L136.4 787.6L137.5 787.6L138.6 787.8L139.8 788.0L141.0 786.2L142.2 786.6L143.4 787.0L144.6 787.5L145.9 788.1L146.7 790.7L147.9 791.4L149.1 792.2L150.3 793.0L151.4 793.9L152.6 794.9L153.8 795.9L154.9 797.0L156.1 798.2L157.2 799.4L158.3 800.7L159.4 802.0L161.7 801.8L162.8 803.3L163.9 804.8L165.0 806.4L166.1 808.1L167.2 809.8L166.8 812.9L167.7 814.6L168.7 816.4L169.6 818.2L170.5 820.1L171.4 822.0L172.2 823.9L173.0 825.8L173.8 827.8L174.5 829.8L175.2 831.8L175.9 833.9L178.5 835.3L179.1 837.4ZM173.2 841.9L174.0 845.2L174.7 848.5L175.3 851.8L175.7 855.0L176.0 858.2L176.2 861.4L176.2 864.5L176.1 867.6L175.9 870.5L175.5 873.4L175.0 876.1L174.4 878.7L173.6 881.1L172.7 883.4L171.8 885.5L170.7 887.4L169.4 889.2L168.1 890.7L166.7 892.1L165.2 893.2L163.7 894.1L162.0 894.8L160.3 895.2L158.5 895.5L156.7 895.5L154.9 895.2L153.0 894.8L151.1 894.1L149.2 893.2L147.2 892.1L145.3 890.8L143.4 889.2L141.6 887.5L139.7 885.6L137.9 883.4L136.2 881.2L134.5 878.7L132.9 876.1L131.4 873.4L129.9 870.6L128.6 867.6L127.3 864.6L126.2 861.5L125.1 858.3L124.2 855.1L123.4 851.8L122.7 848.5L122.1 845.2L121.7 842.0L121.4 838.8L121.2 835.6L121.2 832.5L121.3 829.4L121.5 826.5L121.9 823.6L122.4 820.9L123.0 818.3L123.8 815.9L124.7 813.6L125.6 811.5L126.7 809.6L128.0 807.8L129.3 806.3L130.7 804.9L132.2 803.8L133.7 802.9L135.4 802.2L137.1 801.8L138.9 801.5L140.7 801.5L142.5 801.8L144.4 802.2L146.3 802.9L148.2 803.8L150.2 804.9L152.1 806.2L154.0 807.8L155.8 809.5L157.7 811.4L159.5 813.6L161.2 815.8L162.9 818.3L164.5 820.9L166.0 823.6L167.5 826.4L168.8 829.4L170.1 832.4L171.2 835.5L172.3 838.7Z" fill="#fff" fill-rule="evenodd" stroke-width="1.88"/>
<path d="M139.7 848.2L140.2 850.2L140.7 852.3L143.7 854.0L144.1 856.1L144.5 858.3L144.8 860.5L145.1 862.6L142.7 864.7L142.9 866.8L143.1 868.8L143.2 870.9L143.2 872.9L143.2 874.9L143.2 876.8L143.1 878.8L143.0 880.7L142.9 882.6L142.6 884.5L142.4 886.3L144.5 889.2L144.1 891.0L143.7 892.8L143.2 894.5L142.7 896.2L142.1 897.9L139.4 897.9L138.9 899.4L138.2 900.9L137.6 902.2L136.9 903.5L136.1 904.8L135.4 906.0L134.5 907.2L133.7 908.3L132.8 909.3L131.9 910.2L131.0 911.1L131.3 914.2L130.2 915.0L129.1 915.8L128.0 916.4L126.8 917.0L124.8 915.1L123.7 915.5L122.5 915.8L121.4 916.1L120.2 916.3L119.0 916.4L117.8 916.5L116.6 916.5L115.3 916.4L114.1 916.2L112.8 916.0L111.6 915.7L110.1 917.9L108.7 917.4L107.4 916.9L106.0 916.3L104.6 915.6L103.3 914.9L102.7 911.6L101.4 910.7L100.2 909.8L98.9 908.8L97.7 907.7L96.4 906.6L95.2 905.5L94.0 904.2L92.8 902.9L91.7 901.6L90.5 900.2L89.4 898.7L86.6 899.2L85.4 897.6L84.3 895.9L83.2 894.2L82.1 892.4L83.1 889.0L82.1 887.2L81.2 885.4L80.3 883.6L79.5 881.7L78.6 879.8L77.8 877.9L77.1 875.9L76.3 873.9L75.7 871.9L75.0 869.9L74.4 867.9L71.3 866.5L70.8 864.3L70.3 862.2L69.8 860.0L69.4 857.9L69.0 855.7L71.3 853.4L71.0 851.3L70.8 849.3L70.6 847.2L70.4 845.2L70.3 843.1L70.3 841.1L70.3 839.1L70.3 837.2L70.4 835.2L70.5 833.3L70.6 831.4L68.4 828.6L68.7 826.7L69.0 824.8L69.4 823.0L69.8 821.2L72.5 820.8L73.0 819.2L73.5 817.6L74.1 816.1L74.6 814.6L75.3 813.1L75.9 811.8L76.6 810.5L77.4 809.2L78.1 808.0L79.0 806.8L79.8 805.7L80.7 804.7L81.6 803.8L82.5 802.9L82.2 799.8L83.3 799.0L84.4 798.2L85.5 797.6L86.7 797.0L88.7 798.9L89.8 798.5L91.0 798.2L92.1 797.9L93.3 797.7L94.5 797.6L95.7 797.5L96.9 797.5L98.2 797.6L99.4 797.8L100.7 798.0L101.9 798.3L103.2 798.7L104.5 799.1L105.7 799.7L107.5 797.7L108.9 798.4L110.2 799.1L111.6 799.9L112.9 800.8L113.3 804.2L114.6 805.2L115.8 806.3L117.1 807.4L118.3 808.5L119.5 809.8L120.7 811.1L121.8 812.4L123.0 813.8L124.1 815.3L125.2 816.8L126.3 818.3L129.2 818.1L130.3 819.8L131.4 821.6L132.4 823.4L133.4 825.2L134.4 827.1L133.2 830.4L134.0 832.3L134.9 834.2L135.7 836.1L136.4 838.1L137.2 840.1L137.8 842.1L138.5 844.1L139.1 846.1ZM135.3 850.3L136.1 853.6L136.8 856.9L137.3 860.2L137.7 863.4L137.9 866.7L138.0 869.9L137.9 873.1L137.7 876.2L137.4 879.1L136.8 882.0L136.2 884.8L135.4 887.4L134.5 889.9L133.4 892.3L132.2 894.4L130.9 896.4L129.5 898.2L128.0 899.8L126.4 901.2L124.6 902.4L122.8 903.4L121.0 904.1L119.0 904.6L117.0 904.9L115.0 905.0L112.9 904.8L110.8 904.4L108.7 903.8L106.5 903.0L104.4 901.9L102.3 900.6L100.2 899.1L98.2 897.4L96.2 895.5L94.2 893.5L92.3 891.2L90.5 888.8L88.8 886.2L87.2 883.5L85.6 880.7L84.2 877.8L82.9 874.7L81.7 871.6L80.6 868.4L79.7 865.2L78.9 861.9L78.2 858.6L77.7 855.3L77.3 852.1L77.1 848.8L77.0 845.6L77.1 842.4L77.3 839.3L77.6 836.4L78.2 833.5L78.8 830.7L79.6 828.1L80.5 825.6L81.6 823.2L82.8 821.1L84.1 819.1L85.5 817.3L87.0 815.7L88.6 814.3L90.4 813.1L92.2 812.1L94.0 811.4L96.0 810.9L98.0 810.6L100.0 810.5L102.1 810.7L104.2 811.1L106.3 811.7L108.5 812.5L110.6 813.6L112.7 814.9L114.8 816.4L116.8 818.1L118.8 820.0L120.8 822.0L122.7 824.3L124.5 826.7L126.2 829.3L127.8 832.0L129.4 834.8L130.8 837.7L132.1 840.8L133.3 843.9L134.4 847.1Z" fill="#fff" fill-rule="evenodd" stroke-width="2.00"/>
<text x="102" y="772.9" font-size="22.8" textLength="74.5" lengthAdjust="spacingAndGlyphs">35634A</text>
<line x1="130.8" y1="775" x2="130.8" y2="790" stroke-width="1.88"/>
<text x="161.2" y="754.1" font-size="22.8" textLength="74.5" lengthAdjust="spacingAndGlyphs">35634A</text>
<line x1="192" y1="757" x2="192" y2="772.5" stroke-width="1.88"/>
<text x="218.8" y="735.4" font-size="22.8" textLength="74.5" lengthAdjust="spacingAndGlyphs">35634A</text>
<line x1="248.2" y1="738.8" x2="248.2" y2="758.8" stroke-width="1.88"/>
<text x="277" y="717.9" font-size="22.8" textLength="74.5" lengthAdjust="spacingAndGlyphs">35634A</text>
<line x1="306.2" y1="721" x2="306.2" y2="738.8" stroke-width="1.88"/>
<text x="336" y="699.4" font-size="22.8" textLength="74.5" lengthAdjust="spacingAndGlyphs">35634A</text>
<line x1="366.2" y1="702.5" x2="366.2" y2="722.5" stroke-width="1.88"/>
<text x="392.5" y="682.9" font-size="22.8" textLength="74.5" lengthAdjust="spacingAndGlyphs">35634A</text>
<line x1="423" y1="686" x2="423" y2="706" stroke-width="1.88"/>
<text x="165" y="937.9" font-size="22.8" textLength="74.5" lengthAdjust="spacingAndGlyphs">35633B</text>
<line x1="196.2" y1="897.5" x2="196.2" y2="920" stroke-width="1.88"/>
<text x="218.8" y="920.4" font-size="22.8" textLength="74.5" lengthAdjust="spacingAndGlyphs">35633B</text>
<line x1="249.2" y1="883.8" x2="249.2" y2="902.5" stroke-width="1.88"/>
<text x="281" y="903.9" font-size="22.8" textLength="74.5" lengthAdjust="spacingAndGlyphs">35633B</text>
<line x1="312" y1="863.8" x2="312" y2="887.5" stroke-width="1.88"/>
<text x="332.5" y="886.6" font-size="22.8" textLength="74.5" lengthAdjust="spacingAndGlyphs">35633B</text>
<line x1="362.5" y1="853.8" x2="362.5" y2="870" stroke-width="1.88"/>
<text x="395" y="870.4" font-size="22.8" textLength="74.5" lengthAdjust="spacingAndGlyphs">35633B</text>
<line x1="425.8" y1="836" x2="425.8" y2="852.5" stroke-width="1.88"/>
<text x="453.8" y="849.9" font-size="22.8" textLength="74.5" lengthAdjust="spacingAndGlyphs">35633B</text>
<line x1="485" y1="818.8" x2="485" y2="833.8" stroke-width="1.88"/>
<text x="91.2" y="950.4" font-size="22.8" textLength="62.1" lengthAdjust="spacingAndGlyphs">35672</text>
<line x1="120.8" y1="916" x2="120.8" y2="933.8" stroke-width="1.88"/>
<text x="466.2" y="666.6" font-size="22.8" textLength="62.1" lengthAdjust="spacingAndGlyphs">35635</text>
<line x1="496.2" y1="670" x2="496.2" y2="686" stroke-width="1.88"/>
<text x="536.2" y="827.9" font-size="22.8" textLength="74.5" lengthAdjust="spacingAndGlyphs">35675B</text>
<line x1="567.5" y1="796" x2="567.5" y2="812.5" stroke-width="1.88"/>
<ellipse cx="310" cy="1032" rx="13.2" ry="20.1" transform="rotate(-15 310 1032)" fill="none" stroke-width="2"/>
<ellipse cx="308.5" cy="1032.5" rx="8.4" ry="12.7" transform="rotate(-15 308.5 1032.5)" fill="none" stroke-width="2.5"/>
<ellipse cx="309" cy="1032.5" rx="6" ry="10.1" transform="rotate(-15 309 1032.5)" fill="none" stroke-width="1.5"/>
<text x="276.2" y="1092.9" font-size="22.8" textLength="74.5" lengthAdjust="spacingAndGlyphs">35631C</text>
<line x1="307" y1="1050" x2="307" y2="1076" stroke-width="1.88"/>
<ellipse cx="344.6" cy="1022.4" rx="15.4" ry="21.8" transform="rotate(-15 344.6 1022.4)" fill="none" stroke-width="2.5"/>
<ellipse cx="345" cy="1022.6" rx="12.8" ry="19.2" transform="rotate(-15 345 1022.6)" fill="none" stroke-width="1.38"/>
<ellipse cx="345" cy="1023.6" rx="5.5" ry="12.9" transform="rotate(-15 345 1023.6)" fill="none" stroke-width="2.25"/>
<ellipse cx="345" cy="1023.6" rx="8.1" ry="15.5" transform="rotate(-15 345 1023.6)" fill="none" stroke-width="1.38"/>
<line x1="347.6" y1="1039.1" x2="346.4" y2="1040.9" stroke-width="1.38"/>
<line x1="343.7" y1="1037.4" x2="340.8" y2="1038.4" stroke-width="1.38"/>
<line x1="340" y1="1033.2" x2="336" y2="1032.9" stroke-width="1.38"/>
<line x1="337.2" y1="1027.1" x2="332.9" y2="1025.5" stroke-width="1.38"/>
<line x1="335.9" y1="1020.4" x2="332.1" y2="1017.5" stroke-width="1.38"/>
<line x1="336.3" y1="1014.3" x2="333.7" y2="1010.5" stroke-width="1.38"/>
<line x1="338.3" y1="1010" x2="337.4" y2="1005.8" stroke-width="1.38"/>
<line x1="341.6" y1="1008.1" x2="342.5" y2="1004.2" stroke-width="1.38"/>
<text x="321.2" y="1074.2" font-size="22.8" textLength="74.5" lengthAdjust="spacingAndGlyphs">35701B</text>
<line x1="350" y1="1041" x2="350" y2="1057.5" stroke-width="1.88"/>
<path d="M386.1 962.3L416.1 955.8L418.9 954.2L421.8 953.1L424.9 952.6L428.1 952.6L431.3 953.1L434.6 954.1L437.9 955.6L441.2 957.6L444.4 960.1L447.4 963.1L450.4 966.4L453.1 970.1L455.7 974.2L458 978.5L460.1 983.1L461.8 987.9L463.3 992.8L464.5 997.8L465.3 1002.8L465.8 1007.8L466 1012.7L465.8 1017.5L465.3 1022.1L464.4 1026.5L463.2 1030.5L461.7 1034.3L459.9 1037.7L457.8 1040.6L455.5 1043.2L452.9 1045.2L450.1 1046.8L447.2 1047.9L444.1 1048.4L440.9 1048.4L410.9 1054.9" fill="#fff" stroke-width="2"/>
<line x1="388.9" y1="960.7" x2="418.9" y2="954.2" stroke-width="1.75"/>
<line x1="393.8" y1="959.2" x2="423.8" y2="952.7" stroke-width="1.75"/>
<line x1="399.2" y1="959.2" x2="429.2" y2="952.7" stroke-width="1.75"/>
<line x1="404.6" y1="960.6" x2="434.6" y2="954.1" stroke-width="1.75"/>
<line x1="410.1" y1="963.4" x2="440.1" y2="956.9" stroke-width="1.75"/>
<line x1="415.4" y1="967.6" x2="445.4" y2="961.1" stroke-width="1.75"/>
<line x1="420.4" y1="972.9" x2="450.4" y2="966.4" stroke-width="1.75"/>
<line x1="424.8" y1="979.3" x2="454.8" y2="972.8" stroke-width="1.75"/>
<line x1="428.7" y1="986.5" x2="458.7" y2="980" stroke-width="1.75"/>
<line x1="431.8" y1="994.4" x2="461.8" y2="987.9" stroke-width="1.75"/>
<line x1="434.1" y1="1002.6" x2="464.1" y2="996.1" stroke-width="1.75"/>
<path d="M415.9 954.9A29.8 49 -15 0 1 461.5 998.5" fill="none" stroke-width="1.5"/>
<ellipse cx="404.5" cy="1007" rx="29.8" ry="49" transform="rotate(-15 404.5 1007)" fill="#fff" stroke-width="2.12"/>
<ellipse cx="406" cy="1007" rx="26.3" ry="45.5" transform="rotate(-15 406 1007)" fill="none" stroke-width="1.62"/>
<path d="M432 1034.7A14 34 -15 0 1 415 971.2" fill="none" stroke-width="1.88"/>
<path d="M434.1 1032.1A11.5 32 -15 0 1 418.1 972.4" fill="none" stroke-width="1.75"/>
<path d="M436.2 1029.6A9 30 -15 0 1 421.2 973.6" fill="none" stroke-width="1.62"/>
<path d="M427.7 1037.8A17 37 -15 0 1 410.4 970.9" fill="none" stroke-width="1.62"/>
<path d="M438 1026.2A7 27 -15 0 1 424.5 975.8" fill="none" stroke-width="1.5"/>
<text x="408.8" y="1085.4" font-size="22.8" textLength="62.1" lengthAdjust="spacingAndGlyphs">35631</text>
<line x1="438.8" y1="1049.5" x2="438.8" y2="1071" stroke-width="1.88"/>
<ellipse cx="492.5" cy="983" rx="16.7" ry="26.1" transform="rotate(-15 492.5 983)" fill="none" stroke-width="2"/>
<ellipse cx="492.8" cy="982.5" rx="9.6" ry="16.8" transform="rotate(-15 492.8 982.5)" fill="none" stroke-width="2"/>
<path d="M491.8 966.6A7.6 15.8 -15 0 1 498.6 997.2" fill="none" stroke-width="1.38"/>
<text x="472" y="1040.4" font-size="22.8" textLength="74.5" lengthAdjust="spacingAndGlyphs">35631D</text>
<line x1="502" y1="1007.5" x2="502" y2="1025" stroke-width="1.88"/>
<ellipse cx="536.5" cy="971.6" rx="17.7" ry="27.5" transform="rotate(-15 536.5 971.6)" fill="none" stroke-width="2.25"/>
<ellipse cx="537" cy="971.8" rx="15.3" ry="25.1" transform="rotate(-15 537 971.8)" fill="none" stroke-width="1.38"/>
<ellipse cx="537.5" cy="972" rx="10.4" ry="19.9" transform="rotate(-15 537.5 972)" fill="none" stroke-width="2.12"/>
<ellipse cx="537.5" cy="972" rx="12.6" ry="22.1" transform="rotate(-15 537.5 972)" fill="none" stroke-width="1.25"/>
<line x1="529.7" y1="985.6" x2="526.7" y2="985.9" stroke-width="1.38"/>
<line x1="527.2" y1="981.1" x2="524.1" y2="980.6" stroke-width="1.38"/>
<line x1="525.4" y1="976.1" x2="522.2" y2="974.9" stroke-width="1.38"/>
<line x1="524.2" y1="970.8" x2="521.2" y2="968.9" stroke-width="1.38"/>
<line x1="523.9" y1="965.5" x2="521.2" y2="963.1" stroke-width="1.38"/>
<line x1="524.4" y1="960.7" x2="522" y2="957.9" stroke-width="1.38"/>
<line x1="525.6" y1="956.5" x2="523.8" y2="953.4" stroke-width="1.38"/>
<line x1="527.5" y1="953.3" x2="526.4" y2="950.1" stroke-width="1.38"/>
<line x1="530.1" y1="951.1" x2="529.5" y2="948" stroke-width="1.38"/>
<line x1="533" y1="950.2" x2="533.2" y2="947.4" stroke-width="1.38"/>
<line x1="536.3" y1="950.6" x2="537" y2="948.2" stroke-width="1.38"/>
<text x="502.5" y="926.6" font-size="22.8" textLength="74.5" lengthAdjust="spacingAndGlyphs">35631B</text>
<line x1="533" y1="930" x2="533" y2="945" stroke-width="1.88"/>
<ellipse cx="583.8" cy="957.2" rx="19.3" ry="28.3" transform="rotate(-15 583.8 957.2)" fill="none" stroke-width="2.12"/>
<ellipse cx="584.5" cy="957.2" rx="16.8" ry="25.8" transform="rotate(-15 584.5 957.2)" fill="none" stroke-width="1.5"/>
<ellipse cx="586" cy="957" rx="10.1" ry="19.9" transform="rotate(-15 586 957)" fill="none" stroke-width="2.12"/>
<ellipse cx="585.5" cy="957" rx="13.6" ry="22.9" transform="rotate(-15 585.5 957)" fill="none" stroke-width="1.38"/>
<path d="M586.1 938.6A8.1 18.9 -15 0 1 591.5 974.8" fill="none" stroke-width="1.38"/>
<text x="558.8" y="1019.1" font-size="22.8" textLength="74.5" lengthAdjust="spacingAndGlyphs">35631F</text>
<line x1="589.5" y1="982.5" x2="589.5" y2="1003.8" stroke-width="1.88"/>
<path d="M640 866L667.5 858.8L690 862L655 872Z" fill="#fff" stroke-width="1.75"/>
<path d="M616 886L643.8 880L640 895L613.8 900L613 893Z" fill="#fff" stroke-width="1.75"/>
<path d="M615 941L640 935L642 947.5L617.5 955Z" fill="#fff" stroke-width="1.75"/>
<path d="M637.5 986L662.5 980L670 992.5L646 999L638 990Z" fill="#fff" stroke-width="1.75"/>
<path d="M678.8 998.8L688.8 992.5L690 996L683 1003Z" fill="#fff" stroke-width="1.75"/>
<ellipse cx="686.3" cy="931.2" rx="44" ry="73.3" transform="rotate(-15 686.3 931.2)" fill="#fff" stroke-width="2"/>
<path d="M699.2 999.9A39 69.6 -15 1 1 680.4 865.4" fill="none" stroke-width="2.75"/>
<path d="M697.4 996.5A36 66.6 -15 1 1 685.6 869.2" fill="none" stroke-width="1.75"/>
<path d="M693.1 991.5A22.7 63.9 -15 1 1 675.2 873.1" fill="none" stroke-width="1.88"/>
<path d="M686.4 978.3A17.3 52.1 -15 1 1 683.8 899" fill="none" stroke-width="1.75"/>
<path d="M686.1 967.8A14.8 39.1 -15 1 1 684.7 910.6" fill="none" stroke-width="1.62"/>
<ellipse cx="678.5" cy="931" rx="12" ry="26.7" transform="rotate(-15 678.5 931)" fill="#fff" stroke-width="2.38"/>
<ellipse cx="679.5" cy="931" rx="9" ry="19" transform="rotate(-15 679.5 931)" fill="none" stroke-width="2.12"/>
<line x1="672" y1="919.2" x2="683" y2="916.8" stroke-width="1.25"/>
<line x1="672.5" y1="922.4" x2="683" y2="920" stroke-width="1.25"/>
<line x1="672" y1="925.6" x2="683" y2="923.2" stroke-width="1.25"/>
<line x1="672.5" y1="928.8" x2="683" y2="926.4" stroke-width="1.25"/>
<line x1="672" y1="932" x2="683" y2="929.6" stroke-width="1.25"/>
<line x1="672.5" y1="935.2" x2="683" y2="932.8" stroke-width="1.25"/>
<line x1="672" y1="938.4" x2="683" y2="936" stroke-width="1.25"/>
<line x1="672.5" y1="941.6" x2="683" y2="939.2" stroke-width="1.25"/>
<line x1="672" y1="944.8" x2="683" y2="942.4" stroke-width="1.25"/>
<path d="M682.3 896L704.4 888.7L706.3 891.4" fill="none" stroke-width="1.75"/>
<path d="M684.2 899.7L691.6 908.9L710 904.3L721 942.1L702.6 953.1L697.1 960.5L698.9 967.9L719.2 964.2" fill="none" stroke-width="1.88"/>
<path d="M706.3 905.2L717.3 943" fill="none" stroke-width="1.5"/>
<path d="M691.6 908.9C692.5 912 695.2 920 697.1 927.3C698.9 934.7 701.7 948.8 702.6 953.1" fill="none" stroke-width="1.5"/>
<path d="M686 978.9C688.2 979.1 694.9 980.4 698.9 979.8C702.9 979.2 706.6 977.7 710 975.2C713.3 972.8 717.6 966.8 719.2 965.1" fill="none" stroke-width="1.88"/>
<path d="M684.2 973.4C686.3 973.4 693.1 974.4 697.1 973.8C701.1 973.1 705.1 971.5 708.1 969.7C711.2 968 714.3 964.3 715.5 963.3" fill="none" stroke-width="1.5"/>
<path d="M678.7 868.4C680.8 869.3 687.9 871.5 691.6 873.9C695.2 876.4 698.5 880.5 700.8 883.1C703.1 885.8 704.6 888.5 705.4 889.6" fill="none" stroke-width="1.62"/>
<text x="651.2" y="838.4" font-size="22.8" textLength="74.5" lengthAdjust="spacingAndGlyphs">35709J</text>
<line x1="680" y1="841" x2="680" y2="858.8" stroke-width="1.88"/>
<text class="s" x="683" y="1098" font-size="17.2" style="stroke-width:.7px" textLength="55.7" lengthAdjust="spacingAndGlyphs">353140B</text>
</svg></body></html>
